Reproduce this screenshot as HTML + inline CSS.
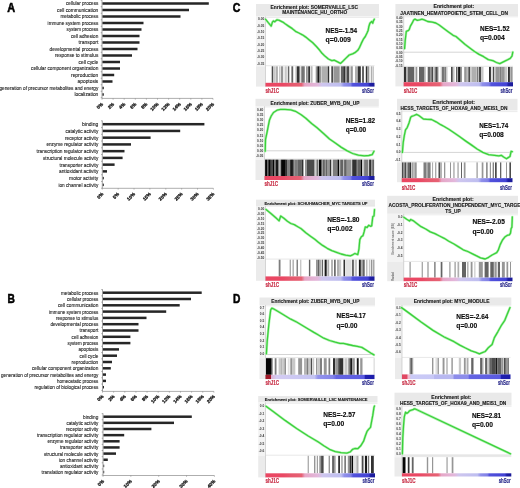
<!DOCTYPE html>
<html><head><meta charset="utf-8"><style>
html,body{margin:0;padding:0;background:#fff;}
svg{display:block;font-family:"Liberation Sans", sans-serif;will-change:transform;}
</style></head><body>
<svg xmlns="http://www.w3.org/2000/svg" width="520" height="488" viewBox="0 0 520 488">
<rect width="520" height="488" fill="#fff"/>
<rect x="102.40" y="2.25" width="106.40" height="2.5" fill="#262626"/>
<text x="98.30" y="5.40" font-size="5.7" fill="#1e1e1e" text-anchor="end" font-weight="normal" textLength="32.30" lengthAdjust="spacingAndGlyphs" stroke="#1e1e1e" stroke-width="0.12">cellular process</text>
<rect x="102.40" y="8.75" width="86.60" height="2.5" fill="#262626"/>
<text x="98.30" y="11.90" font-size="5.7" fill="#1e1e1e" text-anchor="end" font-weight="normal" textLength="41.30" lengthAdjust="spacingAndGlyphs" stroke="#1e1e1e" stroke-width="0.12">cell communication</text>
<rect x="102.40" y="15.25" width="78.10" height="2.5" fill="#262626"/>
<text x="98.30" y="18.40" font-size="5.7" fill="#1e1e1e" text-anchor="end" font-weight="normal" textLength="37.90" lengthAdjust="spacingAndGlyphs" stroke="#1e1e1e" stroke-width="0.12">metabolic process</text>
<rect x="102.40" y="21.75" width="41.10" height="2.5" fill="#262626"/>
<text x="98.30" y="24.90" font-size="5.7" fill="#1e1e1e" text-anchor="end" font-weight="normal" textLength="50.70" lengthAdjust="spacingAndGlyphs" stroke="#1e1e1e" stroke-width="0.12">immune system process</text>
<rect x="102.40" y="28.25" width="39.10" height="2.5" fill="#262626"/>
<text x="98.30" y="31.40" font-size="5.7" fill="#1e1e1e" text-anchor="end" font-weight="normal" textLength="31.70" lengthAdjust="spacingAndGlyphs" stroke="#1e1e1e" stroke-width="0.12">system process</text>
<rect x="102.40" y="34.75" width="37.10" height="2.5" fill="#262626"/>
<text x="98.30" y="37.90" font-size="5.7" fill="#1e1e1e" text-anchor="end" font-weight="normal" textLength="27.30" lengthAdjust="spacingAndGlyphs" stroke="#1e1e1e" stroke-width="0.12">cell adhesion</text>
<rect x="102.40" y="41.25" width="37.10" height="2.5" fill="#262626"/>
<text x="98.30" y="44.40" font-size="5.7" fill="#1e1e1e" text-anchor="end" font-weight="normal" textLength="19.70" lengthAdjust="spacingAndGlyphs" stroke="#1e1e1e" stroke-width="0.12">transport</text>
<rect x="102.40" y="47.75" width="35.10" height="2.5" fill="#262626"/>
<text x="98.30" y="50.90" font-size="5.7" fill="#1e1e1e" text-anchor="end" font-weight="normal" textLength="48.70" lengthAdjust="spacingAndGlyphs" stroke="#1e1e1e" stroke-width="0.12">developmental process</text>
<rect x="102.40" y="54.25" width="29.60" height="2.5" fill="#262626"/>
<text x="98.30" y="57.40" font-size="5.7" fill="#1e1e1e" text-anchor="end" font-weight="normal" textLength="43.30" lengthAdjust="spacingAndGlyphs" stroke="#1e1e1e" stroke-width="0.12">response to stimulus</text>
<rect x="102.40" y="60.75" width="17.60" height="2.5" fill="#262626"/>
<text x="98.30" y="63.90" font-size="5.7" fill="#1e1e1e" text-anchor="end" font-weight="normal" textLength="19.70" lengthAdjust="spacingAndGlyphs" stroke="#1e1e1e" stroke-width="0.12">cell cycle</text>
<rect x="102.40" y="67.25" width="17.60" height="2.5" fill="#262626"/>
<text x="98.30" y="70.40" font-size="5.7" fill="#1e1e1e" text-anchor="end" font-weight="normal" textLength="67.30" lengthAdjust="spacingAndGlyphs" stroke="#1e1e1e" stroke-width="0.12">cellular component organization</text>
<rect x="102.40" y="73.75" width="11.80" height="2.5" fill="#262626"/>
<text x="98.30" y="76.90" font-size="5.7" fill="#1e1e1e" text-anchor="end" font-weight="normal" textLength="27.30" lengthAdjust="spacingAndGlyphs" stroke="#1e1e1e" stroke-width="0.12">reproduction</text>
<rect x="102.40" y="80.25" width="10.10" height="2.5" fill="#262626"/>
<text x="98.30" y="83.40" font-size="5.7" fill="#1e1e1e" text-anchor="end" font-weight="normal" textLength="20.70" lengthAdjust="spacingAndGlyphs" stroke="#1e1e1e" stroke-width="0.12">apoptosis</text>
<rect x="102.40" y="86.75" width="1.40" height="2.5" fill="#262626"/>
<text x="98.30" y="89.90" font-size="5.7" fill="#1e1e1e" text-anchor="end" font-weight="normal" textLength="98.80" lengthAdjust="spacingAndGlyphs" stroke="#1e1e1e" stroke-width="0.12">generation of precursor metabolites and energy</text>
<rect x="102.40" y="93.25" width="1.40" height="2.5" fill="#262626"/>
<text x="98.30" y="96.40" font-size="5.7" fill="#1e1e1e" text-anchor="end" font-weight="normal" textLength="23.90" lengthAdjust="spacingAndGlyphs" stroke="#1e1e1e" stroke-width="0.12">localization</text>
<line x1="102.00" y1="0.20" x2="102.00" y2="98.40" stroke="#666" stroke-width="0.6"/>
<line x1="100.70" y1="0.25" x2="102.00" y2="0.25" stroke="#666" stroke-width="0.5"/>
<line x1="100.70" y1="6.75" x2="102.00" y2="6.75" stroke="#666" stroke-width="0.5"/>
<line x1="100.70" y1="13.25" x2="102.00" y2="13.25" stroke="#666" stroke-width="0.5"/>
<line x1="100.70" y1="19.75" x2="102.00" y2="19.75" stroke="#666" stroke-width="0.5"/>
<line x1="100.70" y1="26.25" x2="102.00" y2="26.25" stroke="#666" stroke-width="0.5"/>
<line x1="100.70" y1="32.75" x2="102.00" y2="32.75" stroke="#666" stroke-width="0.5"/>
<line x1="100.70" y1="39.25" x2="102.00" y2="39.25" stroke="#666" stroke-width="0.5"/>
<line x1="100.70" y1="45.75" x2="102.00" y2="45.75" stroke="#666" stroke-width="0.5"/>
<line x1="100.70" y1="52.25" x2="102.00" y2="52.25" stroke="#666" stroke-width="0.5"/>
<line x1="100.70" y1="58.75" x2="102.00" y2="58.75" stroke="#666" stroke-width="0.5"/>
<line x1="100.70" y1="65.25" x2="102.00" y2="65.25" stroke="#666" stroke-width="0.5"/>
<line x1="100.70" y1="71.75" x2="102.00" y2="71.75" stroke="#666" stroke-width="0.5"/>
<line x1="100.70" y1="78.25" x2="102.00" y2="78.25" stroke="#666" stroke-width="0.5"/>
<line x1="100.70" y1="84.75" x2="102.00" y2="84.75" stroke="#666" stroke-width="0.5"/>
<line x1="100.70" y1="91.25" x2="102.00" y2="91.25" stroke="#666" stroke-width="0.5"/>
<line x1="100.70" y1="97.75" x2="102.00" y2="97.75" stroke="#666" stroke-width="0.5"/>
<line x1="102.00" y1="98.40" x2="213.00" y2="98.40" stroke="#777" stroke-width="0.6"/>
<line x1="102.00" y1="98.40" x2="102.00" y2="99.70" stroke="#777" stroke-width="0.5"/>
<text x="0" y="0" font-size="4.7" font-weight="bold" fill="#1a1a1a" stroke="#1a1a1a" stroke-width="0.3" text-anchor="end" transform="translate(103.40,104.50) rotate(-45)">0%</text>
<line x1="113.10" y1="98.40" x2="113.10" y2="99.70" stroke="#777" stroke-width="0.5"/>
<text x="0" y="0" font-size="4.7" font-weight="bold" fill="#1a1a1a" stroke="#1a1a1a" stroke-width="0.3" text-anchor="end" transform="translate(114.50,104.50) rotate(-45)">2%</text>
<line x1="124.20" y1="98.40" x2="124.20" y2="99.70" stroke="#777" stroke-width="0.5"/>
<text x="0" y="0" font-size="4.7" font-weight="bold" fill="#1a1a1a" stroke="#1a1a1a" stroke-width="0.3" text-anchor="end" transform="translate(125.60,104.50) rotate(-45)">4%</text>
<line x1="135.30" y1="98.40" x2="135.30" y2="99.70" stroke="#777" stroke-width="0.5"/>
<text x="0" y="0" font-size="4.7" font-weight="bold" fill="#1a1a1a" stroke="#1a1a1a" stroke-width="0.3" text-anchor="end" transform="translate(136.70,104.50) rotate(-45)">6%</text>
<line x1="146.40" y1="98.40" x2="146.40" y2="99.70" stroke="#777" stroke-width="0.5"/>
<text x="0" y="0" font-size="4.7" font-weight="bold" fill="#1a1a1a" stroke="#1a1a1a" stroke-width="0.3" text-anchor="end" transform="translate(147.80,104.50) rotate(-45)">8%</text>
<line x1="157.50" y1="98.40" x2="157.50" y2="99.70" stroke="#777" stroke-width="0.5"/>
<text x="0" y="0" font-size="4.7" font-weight="bold" fill="#1a1a1a" stroke="#1a1a1a" stroke-width="0.3" text-anchor="end" transform="translate(158.90,104.50) rotate(-45)">10%</text>
<line x1="168.60" y1="98.40" x2="168.60" y2="99.70" stroke="#777" stroke-width="0.5"/>
<text x="0" y="0" font-size="4.7" font-weight="bold" fill="#1a1a1a" stroke="#1a1a1a" stroke-width="0.3" text-anchor="end" transform="translate(170.00,104.50) rotate(-45)">12%</text>
<line x1="179.70" y1="98.40" x2="179.70" y2="99.70" stroke="#777" stroke-width="0.5"/>
<text x="0" y="0" font-size="4.7" font-weight="bold" fill="#1a1a1a" stroke="#1a1a1a" stroke-width="0.3" text-anchor="end" transform="translate(181.10,104.50) rotate(-45)">14%</text>
<line x1="190.80" y1="98.40" x2="190.80" y2="99.70" stroke="#777" stroke-width="0.5"/>
<text x="0" y="0" font-size="4.7" font-weight="bold" fill="#1a1a1a" stroke="#1a1a1a" stroke-width="0.3" text-anchor="end" transform="translate(192.20,104.50) rotate(-45)">16%</text>
<line x1="201.90" y1="98.40" x2="201.90" y2="99.70" stroke="#777" stroke-width="0.5"/>
<text x="0" y="0" font-size="4.7" font-weight="bold" fill="#1a1a1a" stroke="#1a1a1a" stroke-width="0.3" text-anchor="end" transform="translate(203.30,104.50) rotate(-45)">18%</text>
<line x1="213.00" y1="98.40" x2="213.00" y2="99.70" stroke="#777" stroke-width="0.5"/>
<text x="0" y="0" font-size="4.7" font-weight="bold" fill="#1a1a1a" stroke="#1a1a1a" stroke-width="0.3" text-anchor="end" transform="translate(214.40,104.50) rotate(-45)">20%</text>
<rect x="102.70" y="122.95" width="101.70" height="2.5" fill="#262626"/>
<text x="98.30" y="126.10" font-size="5.7" fill="#1e1e1e" text-anchor="end" font-weight="normal" textLength="16.30" lengthAdjust="spacingAndGlyphs" stroke="#1e1e1e" stroke-width="0.12">binding</text>
<rect x="102.70" y="129.69" width="77.50" height="2.5" fill="#262626"/>
<text x="98.30" y="132.84" font-size="5.7" fill="#1e1e1e" text-anchor="end" font-weight="normal" textLength="32.90" lengthAdjust="spacingAndGlyphs" stroke="#1e1e1e" stroke-width="0.12">catalytic activity</text>
<rect x="102.70" y="136.43" width="47.90" height="2.5" fill="#262626"/>
<text x="98.30" y="139.58" font-size="5.7" fill="#1e1e1e" text-anchor="end" font-weight="normal" textLength="33.30" lengthAdjust="spacingAndGlyphs" stroke="#1e1e1e" stroke-width="0.12">receptor activity</text>
<rect x="102.70" y="143.17" width="28.30" height="2.5" fill="#262626"/>
<text x="98.30" y="146.32" font-size="5.7" fill="#1e1e1e" text-anchor="end" font-weight="normal" textLength="51.90" lengthAdjust="spacingAndGlyphs" stroke="#1e1e1e" stroke-width="0.12">enzyme regulator activity</text>
<rect x="102.70" y="149.91" width="21.80" height="2.5" fill="#262626"/>
<text x="98.30" y="153.06" font-size="5.7" fill="#1e1e1e" text-anchor="end" font-weight="normal" textLength="61.70" lengthAdjust="spacingAndGlyphs" stroke="#1e1e1e" stroke-width="0.12">transcription regulator activity</text>
<rect x="102.70" y="156.65" width="19.90" height="2.5" fill="#262626"/>
<text x="98.30" y="159.80" font-size="5.7" fill="#1e1e1e" text-anchor="end" font-weight="normal" textLength="55.30" lengthAdjust="spacingAndGlyphs" stroke="#1e1e1e" stroke-width="0.12">structural molecule activity</text>
<rect x="102.70" y="163.39" width="11.90" height="2.5" fill="#262626"/>
<text x="98.30" y="166.54" font-size="5.7" fill="#1e1e1e" text-anchor="end" font-weight="normal" textLength="38.70" lengthAdjust="spacingAndGlyphs" stroke="#1e1e1e" stroke-width="0.12">transporter activity</text>
<rect x="102.70" y="170.13" width="4.30" height="2.5" fill="#262626"/>
<text x="98.30" y="173.28" font-size="5.7" fill="#1e1e1e" text-anchor="end" font-weight="normal" textLength="39.30" lengthAdjust="spacingAndGlyphs" stroke="#1e1e1e" stroke-width="0.12">antioxidant activity</text>
<rect x="102.70" y="176.87" width="1.10" height="2.5" fill="#262626"/>
<text x="98.30" y="180.02" font-size="5.7" fill="#1e1e1e" text-anchor="end" font-weight="normal" textLength="29.30" lengthAdjust="spacingAndGlyphs" stroke="#1e1e1e" stroke-width="0.12">motor activity</text>
<rect x="102.70" y="183.61" width="1.10" height="2.5" fill="#262626"/>
<text x="98.30" y="186.76" font-size="5.7" fill="#1e1e1e" text-anchor="end" font-weight="normal" textLength="39.90" lengthAdjust="spacingAndGlyphs" stroke="#1e1e1e" stroke-width="0.12">ion channel activity</text>
<line x1="102.30" y1="120.60" x2="102.30" y2="188.30" stroke="#666" stroke-width="0.6"/>
<line x1="101.00" y1="120.83" x2="102.30" y2="120.83" stroke="#666" stroke-width="0.5"/>
<line x1="101.00" y1="127.57" x2="102.30" y2="127.57" stroke="#666" stroke-width="0.5"/>
<line x1="101.00" y1="134.31" x2="102.30" y2="134.31" stroke="#666" stroke-width="0.5"/>
<line x1="101.00" y1="141.05" x2="102.30" y2="141.05" stroke="#666" stroke-width="0.5"/>
<line x1="101.00" y1="147.79" x2="102.30" y2="147.79" stroke="#666" stroke-width="0.5"/>
<line x1="101.00" y1="154.53" x2="102.30" y2="154.53" stroke="#666" stroke-width="0.5"/>
<line x1="101.00" y1="161.27" x2="102.30" y2="161.27" stroke="#666" stroke-width="0.5"/>
<line x1="101.00" y1="168.01" x2="102.30" y2="168.01" stroke="#666" stroke-width="0.5"/>
<line x1="101.00" y1="174.75" x2="102.30" y2="174.75" stroke="#666" stroke-width="0.5"/>
<line x1="101.00" y1="181.49" x2="102.30" y2="181.49" stroke="#666" stroke-width="0.5"/>
<line x1="101.00" y1="188.23" x2="102.30" y2="188.23" stroke="#666" stroke-width="0.5"/>
<line x1="102.30" y1="188.30" x2="213.40" y2="188.30" stroke="#777" stroke-width="0.6"/>
<line x1="102.30" y1="188.30" x2="102.30" y2="189.60" stroke="#777" stroke-width="0.5"/>
<text x="0" y="0" font-size="4.7" font-weight="bold" fill="#1a1a1a" stroke="#1a1a1a" stroke-width="0.3" text-anchor="end" transform="translate(103.70,194.40) rotate(-45)">0%</text>
<line x1="118.17" y1="188.30" x2="118.17" y2="189.60" stroke="#777" stroke-width="0.5"/>
<text x="0" y="0" font-size="4.7" font-weight="bold" fill="#1a1a1a" stroke="#1a1a1a" stroke-width="0.3" text-anchor="end" transform="translate(119.57,194.40) rotate(-45)">5%</text>
<line x1="134.04" y1="188.30" x2="134.04" y2="189.60" stroke="#777" stroke-width="0.5"/>
<text x="0" y="0" font-size="4.7" font-weight="bold" fill="#1a1a1a" stroke="#1a1a1a" stroke-width="0.3" text-anchor="end" transform="translate(135.44,194.40) rotate(-45)">10%</text>
<line x1="149.91" y1="188.30" x2="149.91" y2="189.60" stroke="#777" stroke-width="0.5"/>
<text x="0" y="0" font-size="4.7" font-weight="bold" fill="#1a1a1a" stroke="#1a1a1a" stroke-width="0.3" text-anchor="end" transform="translate(151.31,194.40) rotate(-45)">15%</text>
<line x1="165.79" y1="188.30" x2="165.79" y2="189.60" stroke="#777" stroke-width="0.5"/>
<text x="0" y="0" font-size="4.7" font-weight="bold" fill="#1a1a1a" stroke="#1a1a1a" stroke-width="0.3" text-anchor="end" transform="translate(167.19,194.40) rotate(-45)">20%</text>
<line x1="181.66" y1="188.30" x2="181.66" y2="189.60" stroke="#777" stroke-width="0.5"/>
<text x="0" y="0" font-size="4.7" font-weight="bold" fill="#1a1a1a" stroke="#1a1a1a" stroke-width="0.3" text-anchor="end" transform="translate(183.06,194.40) rotate(-45)">25%</text>
<line x1="197.53" y1="188.30" x2="197.53" y2="189.60" stroke="#777" stroke-width="0.5"/>
<text x="0" y="0" font-size="4.7" font-weight="bold" fill="#1a1a1a" stroke="#1a1a1a" stroke-width="0.3" text-anchor="end" transform="translate(198.93,194.40) rotate(-45)">30%</text>
<line x1="213.40" y1="188.30" x2="213.40" y2="189.60" stroke="#777" stroke-width="0.5"/>
<text x="0" y="0" font-size="4.7" font-weight="bold" fill="#1a1a1a" stroke="#1a1a1a" stroke-width="0.3" text-anchor="end" transform="translate(214.80,194.40) rotate(-45)">35%</text>
<rect x="102.90" y="291.45" width="98.80" height="2.5" fill="#262626"/>
<text x="98.30" y="294.60" font-size="5.7" fill="#1e1e1e" text-anchor="end" font-weight="normal" textLength="37.30" lengthAdjust="spacingAndGlyphs" stroke="#1e1e1e" stroke-width="0.12">metabolic process</text>
<rect x="102.90" y="297.75" width="88.10" height="2.5" fill="#262626"/>
<text x="98.30" y="300.90" font-size="5.7" fill="#1e1e1e" text-anchor="end" font-weight="normal" textLength="31.30" lengthAdjust="spacingAndGlyphs" stroke="#1e1e1e" stroke-width="0.12">cellular process</text>
<rect x="102.90" y="304.05" width="76.80" height="2.5" fill="#262626"/>
<text x="98.30" y="307.20" font-size="5.7" fill="#1e1e1e" text-anchor="end" font-weight="normal" textLength="40.30" lengthAdjust="spacingAndGlyphs" stroke="#1e1e1e" stroke-width="0.12">cell communication</text>
<rect x="102.90" y="310.35" width="63.30" height="2.5" fill="#262626"/>
<text x="98.30" y="313.50" font-size="5.7" fill="#1e1e1e" text-anchor="end" font-weight="normal" textLength="49.30" lengthAdjust="spacingAndGlyphs" stroke="#1e1e1e" stroke-width="0.12">immune system process</text>
<rect x="102.90" y="316.65" width="43.60" height="2.5" fill="#262626"/>
<text x="98.30" y="319.80" font-size="5.7" fill="#1e1e1e" text-anchor="end" font-weight="normal" textLength="42.30" lengthAdjust="spacingAndGlyphs" stroke="#1e1e1e" stroke-width="0.12">response to stimulus</text>
<rect x="102.90" y="322.95" width="35.60" height="2.5" fill="#262626"/>
<text x="98.30" y="326.10" font-size="5.7" fill="#1e1e1e" text-anchor="end" font-weight="normal" textLength="47.90" lengthAdjust="spacingAndGlyphs" stroke="#1e1e1e" stroke-width="0.12">developmental process</text>
<rect x="102.90" y="329.25" width="35.60" height="2.5" fill="#262626"/>
<text x="98.30" y="332.40" font-size="5.7" fill="#1e1e1e" text-anchor="end" font-weight="normal" textLength="18.70" lengthAdjust="spacingAndGlyphs" stroke="#1e1e1e" stroke-width="0.12">transport</text>
<rect x="102.90" y="335.55" width="27.50" height="2.5" fill="#262626"/>
<text x="98.30" y="338.70" font-size="5.7" fill="#1e1e1e" text-anchor="end" font-weight="normal" textLength="26.70" lengthAdjust="spacingAndGlyphs" stroke="#1e1e1e" stroke-width="0.12">cell adhesion</text>
<rect x="102.90" y="341.85" width="27.50" height="2.5" fill="#262626"/>
<text x="98.30" y="345.00" font-size="5.7" fill="#1e1e1e" text-anchor="end" font-weight="normal" textLength="30.70" lengthAdjust="spacingAndGlyphs" stroke="#1e1e1e" stroke-width="0.12">system process</text>
<rect x="102.90" y="348.15" width="16.10" height="2.5" fill="#262626"/>
<text x="98.30" y="351.30" font-size="5.7" fill="#1e1e1e" text-anchor="end" font-weight="normal" textLength="19.90" lengthAdjust="spacingAndGlyphs" stroke="#1e1e1e" stroke-width="0.12">apoptosis</text>
<rect x="102.90" y="354.45" width="14.10" height="2.5" fill="#262626"/>
<text x="98.30" y="357.60" font-size="5.7" fill="#1e1e1e" text-anchor="end" font-weight="normal" textLength="18.70" lengthAdjust="spacingAndGlyphs" stroke="#1e1e1e" stroke-width="0.12">cell cycle</text>
<rect x="102.90" y="360.75" width="9.10" height="2.5" fill="#262626"/>
<text x="98.30" y="363.90" font-size="5.7" fill="#1e1e1e" text-anchor="end" font-weight="normal" textLength="26.70" lengthAdjust="spacingAndGlyphs" stroke="#1e1e1e" stroke-width="0.12">reproduction</text>
<rect x="102.90" y="367.05" width="7.90" height="2.5" fill="#262626"/>
<text x="98.30" y="370.20" font-size="5.7" fill="#1e1e1e" text-anchor="end" font-weight="normal" textLength="66.30" lengthAdjust="spacingAndGlyphs" stroke="#1e1e1e" stroke-width="0.12">cellular component organization</text>
<rect x="102.90" y="373.35" width="3.10" height="2.5" fill="#262626"/>
<text x="98.30" y="376.50" font-size="5.7" fill="#1e1e1e" text-anchor="end" font-weight="normal" textLength="97.30" lengthAdjust="spacingAndGlyphs" stroke="#1e1e1e" stroke-width="0.12">generation of precursor metabolites and energy</text>
<rect x="102.90" y="379.65" width="3.10" height="2.5" fill="#262626"/>
<text x="98.30" y="382.80" font-size="5.7" fill="#1e1e1e" text-anchor="end" font-weight="normal" textLength="41.30" lengthAdjust="spacingAndGlyphs" stroke="#1e1e1e" stroke-width="0.12">homeostatic process</text>
<rect x="102.90" y="385.95" width="1.10" height="2.5" fill="#262626"/>
<text x="98.30" y="389.10" font-size="5.7" fill="#1e1e1e" text-anchor="end" font-weight="normal" textLength="63.90" lengthAdjust="spacingAndGlyphs" stroke="#1e1e1e" stroke-width="0.12">regulation of biological process</text>
<line x1="102.50" y1="289.40" x2="102.50" y2="391.40" stroke="#666" stroke-width="0.6"/>
<line x1="101.20" y1="289.55" x2="102.50" y2="289.55" stroke="#666" stroke-width="0.5"/>
<line x1="101.20" y1="295.85" x2="102.50" y2="295.85" stroke="#666" stroke-width="0.5"/>
<line x1="101.20" y1="302.15" x2="102.50" y2="302.15" stroke="#666" stroke-width="0.5"/>
<line x1="101.20" y1="308.45" x2="102.50" y2="308.45" stroke="#666" stroke-width="0.5"/>
<line x1="101.20" y1="314.75" x2="102.50" y2="314.75" stroke="#666" stroke-width="0.5"/>
<line x1="101.20" y1="321.05" x2="102.50" y2="321.05" stroke="#666" stroke-width="0.5"/>
<line x1="101.20" y1="327.35" x2="102.50" y2="327.35" stroke="#666" stroke-width="0.5"/>
<line x1="101.20" y1="333.65" x2="102.50" y2="333.65" stroke="#666" stroke-width="0.5"/>
<line x1="101.20" y1="339.95" x2="102.50" y2="339.95" stroke="#666" stroke-width="0.5"/>
<line x1="101.20" y1="346.25" x2="102.50" y2="346.25" stroke="#666" stroke-width="0.5"/>
<line x1="101.20" y1="352.55" x2="102.50" y2="352.55" stroke="#666" stroke-width="0.5"/>
<line x1="101.20" y1="358.85" x2="102.50" y2="358.85" stroke="#666" stroke-width="0.5"/>
<line x1="101.20" y1="365.15" x2="102.50" y2="365.15" stroke="#666" stroke-width="0.5"/>
<line x1="101.20" y1="371.45" x2="102.50" y2="371.45" stroke="#666" stroke-width="0.5"/>
<line x1="101.20" y1="377.75" x2="102.50" y2="377.75" stroke="#666" stroke-width="0.5"/>
<line x1="101.20" y1="384.05" x2="102.50" y2="384.05" stroke="#666" stroke-width="0.5"/>
<line x1="101.20" y1="390.35" x2="102.50" y2="390.35" stroke="#666" stroke-width="0.5"/>
<line x1="102.50" y1="391.40" x2="213.90" y2="391.40" stroke="#777" stroke-width="0.6"/>
<line x1="102.50" y1="391.40" x2="102.50" y2="392.70" stroke="#777" stroke-width="0.5"/>
<text x="0" y="0" font-size="4.7" font-weight="bold" fill="#1a1a1a" stroke="#1a1a1a" stroke-width="0.3" text-anchor="end" transform="translate(103.90,396.80) rotate(-45)">0%</text>
<line x1="113.64" y1="391.40" x2="113.64" y2="392.70" stroke="#777" stroke-width="0.5"/>
<text x="0" y="0" font-size="4.7" font-weight="bold" fill="#1a1a1a" stroke="#1a1a1a" stroke-width="0.3" text-anchor="end" transform="translate(115.04,396.80) rotate(-45)">2%</text>
<line x1="124.78" y1="391.40" x2="124.78" y2="392.70" stroke="#777" stroke-width="0.5"/>
<text x="0" y="0" font-size="4.7" font-weight="bold" fill="#1a1a1a" stroke="#1a1a1a" stroke-width="0.3" text-anchor="end" transform="translate(126.18,396.80) rotate(-45)">4%</text>
<line x1="135.92" y1="391.40" x2="135.92" y2="392.70" stroke="#777" stroke-width="0.5"/>
<text x="0" y="0" font-size="4.7" font-weight="bold" fill="#1a1a1a" stroke="#1a1a1a" stroke-width="0.3" text-anchor="end" transform="translate(137.32,396.80) rotate(-45)">6%</text>
<line x1="147.06" y1="391.40" x2="147.06" y2="392.70" stroke="#777" stroke-width="0.5"/>
<text x="0" y="0" font-size="4.7" font-weight="bold" fill="#1a1a1a" stroke="#1a1a1a" stroke-width="0.3" text-anchor="end" transform="translate(148.46,396.80) rotate(-45)">8%</text>
<line x1="158.20" y1="391.40" x2="158.20" y2="392.70" stroke="#777" stroke-width="0.5"/>
<text x="0" y="0" font-size="4.7" font-weight="bold" fill="#1a1a1a" stroke="#1a1a1a" stroke-width="0.3" text-anchor="end" transform="translate(159.60,396.80) rotate(-45)">10%</text>
<line x1="169.34" y1="391.40" x2="169.34" y2="392.70" stroke="#777" stroke-width="0.5"/>
<text x="0" y="0" font-size="4.7" font-weight="bold" fill="#1a1a1a" stroke="#1a1a1a" stroke-width="0.3" text-anchor="end" transform="translate(170.74,396.80) rotate(-45)">12%</text>
<line x1="180.48" y1="391.40" x2="180.48" y2="392.70" stroke="#777" stroke-width="0.5"/>
<text x="0" y="0" font-size="4.7" font-weight="bold" fill="#1a1a1a" stroke="#1a1a1a" stroke-width="0.3" text-anchor="end" transform="translate(181.88,396.80) rotate(-45)">14%</text>
<line x1="191.62" y1="391.40" x2="191.62" y2="392.70" stroke="#777" stroke-width="0.5"/>
<text x="0" y="0" font-size="4.7" font-weight="bold" fill="#1a1a1a" stroke="#1a1a1a" stroke-width="0.3" text-anchor="end" transform="translate(193.02,396.80) rotate(-45)">16%</text>
<line x1="202.76" y1="391.40" x2="202.76" y2="392.70" stroke="#777" stroke-width="0.5"/>
<text x="0" y="0" font-size="4.7" font-weight="bold" fill="#1a1a1a" stroke="#1a1a1a" stroke-width="0.3" text-anchor="end" transform="translate(204.16,396.80) rotate(-45)">18%</text>
<line x1="213.90" y1="391.40" x2="213.90" y2="392.70" stroke="#777" stroke-width="0.5"/>
<text x="0" y="0" font-size="4.7" font-weight="bold" fill="#1a1a1a" stroke="#1a1a1a" stroke-width="0.3" text-anchor="end" transform="translate(215.30,396.80) rotate(-45)">20%</text>
<rect x="103.40" y="415.45" width="88.40" height="2.5" fill="#262626"/>
<text x="98.30" y="418.60" font-size="5.7" fill="#1e1e1e" text-anchor="end" font-weight="normal" textLength="15.30" lengthAdjust="spacingAndGlyphs" stroke="#1e1e1e" stroke-width="0.12">binding</text>
<rect x="103.40" y="421.60" width="70.60" height="2.5" fill="#262626"/>
<text x="98.30" y="424.75" font-size="5.7" fill="#1e1e1e" text-anchor="end" font-weight="normal" textLength="31.90" lengthAdjust="spacingAndGlyphs" stroke="#1e1e1e" stroke-width="0.12">catalytic activity</text>
<rect x="103.40" y="427.75" width="48.00" height="2.5" fill="#262626"/>
<text x="98.30" y="430.90" font-size="5.7" fill="#1e1e1e" text-anchor="end" font-weight="normal" textLength="32.30" lengthAdjust="spacingAndGlyphs" stroke="#1e1e1e" stroke-width="0.12">receptor activity</text>
<rect x="103.40" y="433.90" width="20.80" height="2.5" fill="#262626"/>
<text x="98.30" y="437.05" font-size="5.7" fill="#1e1e1e" text-anchor="end" font-weight="normal" textLength="61.30" lengthAdjust="spacingAndGlyphs" stroke="#1e1e1e" stroke-width="0.12">transcription regulator activity</text>
<rect x="103.40" y="440.05" width="16.20" height="2.5" fill="#262626"/>
<text x="98.30" y="443.20" font-size="5.7" fill="#1e1e1e" text-anchor="end" font-weight="normal" textLength="50.90" lengthAdjust="spacingAndGlyphs" stroke="#1e1e1e" stroke-width="0.12">enzyme regulator activity</text>
<rect x="103.40" y="446.20" width="16.20" height="2.5" fill="#262626"/>
<text x="98.30" y="449.35" font-size="5.7" fill="#1e1e1e" text-anchor="end" font-weight="normal" textLength="38.30" lengthAdjust="spacingAndGlyphs" stroke="#1e1e1e" stroke-width="0.12">transporter activity</text>
<rect x="103.40" y="452.35" width="12.60" height="2.5" fill="#262626"/>
<text x="98.30" y="455.50" font-size="5.7" fill="#1e1e1e" text-anchor="end" font-weight="normal" textLength="54.30" lengthAdjust="spacingAndGlyphs" stroke="#1e1e1e" stroke-width="0.12">structural molecule activity</text>
<rect x="103.40" y="458.50" width="4.40" height="2.5" fill="#262626"/>
<text x="98.30" y="461.65" font-size="5.7" fill="#1e1e1e" text-anchor="end" font-weight="normal" textLength="39.30" lengthAdjust="spacingAndGlyphs" stroke="#1e1e1e" stroke-width="0.12">ion channel activity</text>
<rect x="103.40" y="464.65" width="0.80" height="2.5" fill="#262626"/>
<text x="98.30" y="467.80" font-size="5.7" fill="#1e1e1e" text-anchor="end" font-weight="normal" textLength="38.30" lengthAdjust="spacingAndGlyphs" stroke="#1e1e1e" stroke-width="0.12">antioxidant activity</text>
<rect x="103.40" y="470.80" width="0.80" height="2.5" fill="#262626"/>
<text x="98.30" y="473.95" font-size="5.7" fill="#1e1e1e" text-anchor="end" font-weight="normal" textLength="56.70" lengthAdjust="spacingAndGlyphs" stroke="#1e1e1e" stroke-width="0.12">translation regulator activity</text>
<line x1="103.00" y1="413.40" x2="103.00" y2="475.50" stroke="#666" stroke-width="0.6"/>
<line x1="101.70" y1="413.62" x2="103.00" y2="413.62" stroke="#666" stroke-width="0.5"/>
<line x1="101.70" y1="419.77" x2="103.00" y2="419.77" stroke="#666" stroke-width="0.5"/>
<line x1="101.70" y1="425.93" x2="103.00" y2="425.93" stroke="#666" stroke-width="0.5"/>
<line x1="101.70" y1="432.07" x2="103.00" y2="432.07" stroke="#666" stroke-width="0.5"/>
<line x1="101.70" y1="438.22" x2="103.00" y2="438.22" stroke="#666" stroke-width="0.5"/>
<line x1="101.70" y1="444.38" x2="103.00" y2="444.38" stroke="#666" stroke-width="0.5"/>
<line x1="101.70" y1="450.52" x2="103.00" y2="450.52" stroke="#666" stroke-width="0.5"/>
<line x1="101.70" y1="456.68" x2="103.00" y2="456.68" stroke="#666" stroke-width="0.5"/>
<line x1="101.70" y1="462.82" x2="103.00" y2="462.82" stroke="#666" stroke-width="0.5"/>
<line x1="101.70" y1="468.98" x2="103.00" y2="468.98" stroke="#666" stroke-width="0.5"/>
<line x1="101.70" y1="475.12" x2="103.00" y2="475.12" stroke="#666" stroke-width="0.5"/>
<line x1="103.00" y1="475.50" x2="214.40" y2="475.50" stroke="#777" stroke-width="0.6"/>
<line x1="103.00" y1="475.50" x2="103.00" y2="476.80" stroke="#777" stroke-width="0.5"/>
<text x="0" y="0" font-size="4.7" font-weight="bold" fill="#1a1a1a" stroke="#1a1a1a" stroke-width="0.3" text-anchor="end" transform="translate(104.40,481.60) rotate(-45)">0%</text>
<line x1="130.85" y1="475.50" x2="130.85" y2="476.80" stroke="#777" stroke-width="0.5"/>
<text x="0" y="0" font-size="4.7" font-weight="bold" fill="#1a1a1a" stroke="#1a1a1a" stroke-width="0.3" text-anchor="end" transform="translate(132.25,481.60) rotate(-45)">10%</text>
<line x1="158.70" y1="475.50" x2="158.70" y2="476.80" stroke="#777" stroke-width="0.5"/>
<text x="0" y="0" font-size="4.7" font-weight="bold" fill="#1a1a1a" stroke="#1a1a1a" stroke-width="0.3" text-anchor="end" transform="translate(160.10,481.60) rotate(-45)">20%</text>
<line x1="186.55" y1="475.50" x2="186.55" y2="476.80" stroke="#777" stroke-width="0.5"/>
<text x="0" y="0" font-size="4.7" font-weight="bold" fill="#1a1a1a" stroke="#1a1a1a" stroke-width="0.3" text-anchor="end" transform="translate(187.95,481.60) rotate(-45)">30%</text>
<line x1="214.40" y1="475.50" x2="214.40" y2="476.80" stroke="#777" stroke-width="0.5"/>
<text x="0" y="0" font-size="4.7" font-weight="bold" fill="#1a1a1a" stroke="#1a1a1a" stroke-width="0.3" text-anchor="end" transform="translate(215.80,481.60) rotate(-45)">40%</text>
<text x="7.20" y="11.60" font-size="12.6" fill="#000" text-anchor="start" font-weight="bold" textLength="7.90" lengthAdjust="spacingAndGlyphs" stroke="#000" stroke-width="0.55">A</text>
<text x="7.40" y="302.70" font-size="12.6" fill="#000" text-anchor="start" font-weight="bold" textLength="7.40" lengthAdjust="spacingAndGlyphs" stroke="#000" stroke-width="0.55">B</text>
<text x="232.70" y="11.60" font-size="12.6" fill="#000" text-anchor="start" font-weight="bold" textLength="7.60" lengthAdjust="spacingAndGlyphs" stroke="#000" stroke-width="0.55">C</text>
<text x="233.00" y="302.70" font-size="12.6" fill="#000" text-anchor="start" font-weight="bold" textLength="7.40" lengthAdjust="spacingAndGlyphs" stroke="#000" stroke-width="0.55">D</text>
<rect x="256" y="4" width="123" height="12.5" fill="#e9e9e9"/>
<rect x="256" y="16.5" width="9.5" height="49.8" fill="#f3f3f3"/>
<rect x="256" y="66.3" width="9.5" height="20.299999999999997" fill="#ebebeb"/>
<line x1="265.5" y1="16.5" x2="265.5" y2="86.6" stroke="#bdbdbd" stroke-width="0.6"/>
<line x1="265.5" y1="17.5" x2="379" y2="17.5" stroke="#d8d8d8" stroke-width="0.5"/>
<line x1="265.5" y1="65.7" x2="374.5" y2="65.7" stroke="#cfcfcf" stroke-width="0.5"/>
<text x="264.3" y="20.2" font-size="3.2" font-weight="bold" fill="#3a3a3a" text-anchor="end">0.00</text>
<text x="264.3" y="26.542857142857144" font-size="3.2" font-weight="bold" fill="#3a3a3a" text-anchor="end">-0.05</text>
<text x="264.3" y="32.885714285714286" font-size="3.2" font-weight="bold" fill="#3a3a3a" text-anchor="end">-0.10</text>
<text x="264.3" y="39.22857142857143" font-size="3.2" font-weight="bold" fill="#3a3a3a" text-anchor="end">-0.15</text>
<text x="264.3" y="45.57142857142857" font-size="3.2" font-weight="bold" fill="#3a3a3a" text-anchor="end">-0.20</text>
<text x="264.3" y="51.91428571428572" font-size="3.2" font-weight="bold" fill="#3a3a3a" text-anchor="end">-0.25</text>
<text x="264.3" y="58.25714285714287" font-size="3.2" font-weight="bold" fill="#3a3a3a" text-anchor="end">-0.30</text>
<text x="264.3" y="64.60000000000001" font-size="3.2" font-weight="bold" fill="#3a3a3a" text-anchor="end">-0.35</text>
<rect x="271.7" y="66.3" width="1.60" height="16.5" fill="rgb(75,75,75)"/>
<rect x="274" y="66.3" width="1.40" height="16.5" fill="rgb(200,200,200)"/>
<rect x="275.7" y="66.3" width="2.20" height="16.5" fill="rgb(175,175,175)"/>
<rect x="279" y="66.3" width="1.00" height="16.5" fill="rgb(200,200,200)"/>
<rect x="280.7" y="66.3" width="2.50" height="16.5" fill="rgb(150,150,150)"/>
<rect x="284.6" y="66.3" width="2.20" height="16.5" fill="rgb(200,200,200)"/>
<rect x="287.8" y="66.3" width="1.50" height="16.5" fill="rgb(100,100,100)"/>
<rect x="291.4" y="66.3" width="1.80" height="16.5" fill="rgb(100,100,100)"/>
<rect x="295.3" y="66.3" width="1.10" height="16.5" fill="rgb(200,200,200)"/>
<rect x="296.7" y="66.3" width="2.90" height="16.5" fill="rgb(50,50,50)"/>
<rect x="300.7" y="66.3" width="1.40" height="16.5" fill="rgb(150,150,150)"/>
<rect x="302.1" y="66.3" width="1.80" height="16.5" fill="rgb(100,100,100)"/>
<rect x="303.9" y="66.3" width="1.10" height="16.5" fill="rgb(150,150,150)"/>
<rect x="306" y="66.3" width="1.80" height="16.5" fill="rgb(150,150,150)"/>
<rect x="308.2" y="66.3" width="1.80" height="16.5" fill="rgb(50,50,50)"/>
<rect x="310.7" y="66.3" width="1.00" height="16.5" fill="rgb(150,150,150)"/>
<rect x="311.7" y="66.3" width="1.00" height="16.5" fill="rgb(200,200,200)"/>
<rect x="315.7" y="66.3" width="1.70" height="16.5" fill="rgb(150,150,150)"/>
<rect x="317.4" y="66.3" width="2.20" height="16.5" fill="rgb(25,25,25)"/>
<rect x="319.6" y="66.3" width="1.40" height="16.5" fill="rgb(150,150,150)"/>
<rect x="321.4" y="66.3" width="6.40" height="16.5" fill="rgb(175,175,175)"/>
<rect x="327.8" y="66.3" width="1.40" height="16.5" fill="rgb(50,50,50)"/>
<rect x="331.3" y="66.3" width="1.80" height="16.5" fill="rgb(75,75,75)"/>
<rect x="333.5" y="66.3" width="3.50" height="16.5" fill="rgb(150,150,150)"/>
<rect x="337" y="66.3" width="2.70" height="16.5" fill="rgb(150,150,150)"/>
<rect x="340.8" y="66.3" width="2.40" height="16.5" fill="rgb(100,100,100)"/>
<rect x="343.2" y="66.3" width="2.30" height="16.5" fill="rgb(50,50,50)"/>
<rect x="345.5" y="66.3" width="1.50" height="16.5" fill="rgb(150,150,150)"/>
<rect x="347" y="66.3" width="2.30" height="16.5" fill="rgb(75,75,75)"/>
<rect x="350.5" y="66.3" width="2.30" height="16.5" fill="rgb(150,150,150)"/>
<rect x="355" y="66.3" width="2.80" height="16.5" fill="rgb(175,175,175)"/>
<rect x="357.8" y="66.3" width="3.00" height="16.5" fill="rgb(50,50,50)"/>
<rect x="362" y="66.3" width="2.00" height="16.5" fill="rgb(100,100,100)"/>
<rect x="365.8" y="66.3" width="1.60" height="16.5" fill="rgb(50,50,50)"/>
<rect x="367.4" y="66.3" width="1.90" height="16.5" fill="rgb(150,150,150)"/>
<rect x="370.8" y="66.3" width="1.60" height="16.5" fill="rgb(175,175,175)"/>
<rect x="372.8" y="66.3" width="1.20" height="16.5" fill="rgb(200,200,200)"/>
<defs><linearGradient id="cb1" x1="0" x2="1" y1="0" y2="0"><stop offset="0" stop-color="#ea4662"/><stop offset="0.16" stop-color="#ea4864"/><stop offset="0.22" stop-color="#e6566c"/><stop offset="0.33" stop-color="#e66274"/><stop offset="0.36" stop-color="#e6a6c6"/><stop offset="0.48" stop-color="#e2b8dc"/><stop offset="0.52" stop-color="#cec6ee"/><stop offset="0.69" stop-color="#bebef0"/><stop offset="0.72" stop-color="#9090ea"/><stop offset="0.78" stop-color="#8080e6"/><stop offset="0.8" stop-color="#5252dc"/><stop offset="0.94" stop-color="#4242d4"/><stop offset="0.96" stop-color="#1e1ea4"/><stop offset="1" stop-color="#1a1a98"/></linearGradient></defs>
<rect x="265.5" y="82.8" width="109.0" height="3.799999999999997" fill="url(#cb1)"/>
<polyline points="265.5,19.2 268.3,22.7 271.2,26.1 272.4,22.1 273.5,20.9 274.7,21.8 277,19.8 279.3,20.3 282.8,22.1 285.1,23.8 288.5,26.1 292,28.4 295.5,31.3 298.9,33 302.4,34.8 305.8,37.1 309.3,40 312.8,42.8 316.2,46.3 319.7,50.3 321.5,52.7 324.9,56.1 328.4,59 331.8,60.7 334.2,60.2 337.6,61.9 340.5,63.4 342.8,61.3 345.7,58.4 349.2,55 352.6,53.8 354.9,52.7 357.8,50.3 359.5,47.5 361.3,43.4 363.6,38.8 365.3,36.5 367,33 368.2,30.2 368.8,26.7 369.9,23.2 371.7,21.5 372.8,23.2 373.4,20.9 374.3,19.2" fill="none" stroke="#b4f2b4" stroke-width="2.5" stroke-linejoin="round" stroke-linecap="round"/>
<polyline points="265.5,19.2 268.3,22.7 271.2,26.1 272.4,22.1 273.5,20.9 274.7,21.8 277,19.8 279.3,20.3 282.8,22.1 285.1,23.8 288.5,26.1 292,28.4 295.5,31.3 298.9,33 302.4,34.8 305.8,37.1 309.3,40 312.8,42.8 316.2,46.3 319.7,50.3 321.5,52.7 324.9,56.1 328.4,59 331.8,60.7 334.2,60.2 337.6,61.9 340.5,63.4 342.8,61.3 345.7,58.4 349.2,55 352.6,53.8 354.9,52.7 357.8,50.3 359.5,47.5 361.3,43.4 363.6,38.8 365.3,36.5 367,33 368.2,30.2 368.8,26.7 369.9,23.2 371.7,21.5 372.8,23.2 373.4,20.9 374.3,19.2" fill="none" stroke="#3ad03a" stroke-width="1.3" stroke-linejoin="round" stroke-linecap="round"/>
<text x="270.50" y="8.50" font-size="4.7" fill="#1a1a1a" text-anchor="start" font-weight="bold" textLength="87.50" lengthAdjust="spacingAndGlyphs" stroke="#1a1a1a" stroke-width="0.12">Enrichment plot: SOMERVAILLE_LSC</text>
<text x="282.20" y="14.40" font-size="4.7" fill="#1a1a1a" text-anchor="start" font-weight="bold" textLength="65.10" lengthAdjust="spacingAndGlyphs" stroke="#1a1a1a" stroke-width="0.12">MAINTENANCE_HU_ORTHO</text>
<text x="325.50" y="32.60" font-size="7.9" fill="#0a0a0a" text-anchor="start" font-weight="bold" textLength="31.70" lengthAdjust="spacingAndGlyphs" stroke="#0a0a0a" stroke-width="0.15">NES=-1.54</text>
<text x="325.50" y="42.00" font-size="7.9" fill="#0a0a0a" text-anchor="start" font-weight="bold" textLength="25.40" lengthAdjust="spacingAndGlyphs" stroke="#0a0a0a" stroke-width="0.15">q=0.009</text>
<text x="265.50" y="92.70" font-size="6.6" fill="#c82e46" text-anchor="start" font-weight="bold" textLength="13.60" lengthAdjust="spacingAndGlyphs" stroke="#c82e46" stroke-width="0.2">shJ1C</text>
<text x="373.90" y="92.70" font-size="6.6" fill="#2c2c8c" text-anchor="end" font-weight="bold" textLength="12.00" lengthAdjust="spacingAndGlyphs" stroke="#2c2c8c" stroke-width="0.2">shScr</text>
<rect x="395.4" y="4" width="122.60000000000002" height="12" fill="#e9e9e9"/>
<rect x="395.4" y="16" width="8.300000000000011" height="50.900000000000006" fill="#f3f3f3"/>
<rect x="395.4" y="66.9" width="8.300000000000011" height="19.5" fill="#ebebeb"/>
<line x1="403.7" y1="16" x2="403.7" y2="86.4" stroke="#bdbdbd" stroke-width="0.6"/>
<line x1="403.7" y1="16.8" x2="518" y2="16.8" stroke="#d8d8d8" stroke-width="0.5"/>
<line x1="403.7" y1="66.30000000000001" x2="513" y2="66.30000000000001" stroke="#cfcfcf" stroke-width="0.5"/>
<line x1="403.7" y1="52.2" x2="513" y2="52.2" stroke="#a8a8a8" stroke-width="0.5"/>
<text x="402.5" y="19.0" font-size="3.2" font-weight="bold" fill="#3a3a3a" text-anchor="end">0.40</text>
<text x="402.5" y="23.336363636363636" font-size="3.2" font-weight="bold" fill="#3a3a3a" text-anchor="end">0.35</text>
<text x="402.5" y="27.672727272727272" font-size="3.2" font-weight="bold" fill="#3a3a3a" text-anchor="end">0.30</text>
<text x="402.5" y="32.009090909090915" font-size="3.2" font-weight="bold" fill="#3a3a3a" text-anchor="end">0.25</text>
<text x="402.5" y="36.345454545454544" font-size="3.2" font-weight="bold" fill="#3a3a3a" text-anchor="end">0.20</text>
<text x="402.5" y="40.68181818181819" font-size="3.2" font-weight="bold" fill="#3a3a3a" text-anchor="end">0.15</text>
<text x="402.5" y="45.01818181818182" font-size="3.2" font-weight="bold" fill="#3a3a3a" text-anchor="end">0.10</text>
<text x="402.5" y="49.35454545454546" font-size="3.2" font-weight="bold" fill="#3a3a3a" text-anchor="end">0.05</text>
<text x="402.5" y="53.690909090909095" font-size="3.2" font-weight="bold" fill="#3a3a3a" text-anchor="end">0.00</text>
<text x="402.5" y="58.02727272727273" font-size="3.2" font-weight="bold" fill="#3a3a3a" text-anchor="end">-0.05</text>
<text x="402.5" y="62.36363636363637" font-size="3.2" font-weight="bold" fill="#3a3a3a" text-anchor="end">-0.10</text>
<text x="402.5" y="66.7" font-size="3.2" font-weight="bold" fill="#3a3a3a" text-anchor="end">-0.15</text>
<rect x="404" y="66.9" width="2.30" height="15.299999999999997" fill="rgb(50,50,50)"/>
<rect x="406.3" y="66.9" width="1.50" height="15.299999999999997" fill="rgb(175,175,175)"/>
<rect x="407.8" y="66.9" width="6.60" height="15.299999999999997" fill="rgb(100,100,100)"/>
<rect x="414.4" y="66.9" width="1.20" height="15.299999999999997" fill="rgb(225,225,225)"/>
<rect x="415.6" y="66.9" width="1.70" height="15.299999999999997" fill="rgb(150,150,150)"/>
<rect x="419" y="66.9" width="5.50" height="15.299999999999997" fill="rgb(100,100,100)"/>
<rect x="424.5" y="66.9" width="1.20" height="15.299999999999997" fill="rgb(175,175,175)"/>
<rect x="427.7" y="66.9" width="2.30" height="15.299999999999997" fill="rgb(100,100,100)"/>
<rect x="430" y="66.9" width="1.40" height="15.299999999999997" fill="rgb(150,150,150)"/>
<rect x="431.4" y="66.9" width="1.80" height="15.299999999999997" fill="rgb(75,75,75)"/>
<rect x="433.2" y="66.9" width="1.40" height="15.299999999999997" fill="rgb(200,200,200)"/>
<rect x="434.6" y="66.9" width="1.40" height="15.299999999999997" fill="rgb(125,125,125)"/>
<rect x="436" y="66.9" width="1.80" height="15.299999999999997" fill="rgb(75,75,75)"/>
<rect x="437.8" y="66.9" width="1.10" height="15.299999999999997" fill="rgb(200,200,200)"/>
<rect x="440.7" y="66.9" width="1.20" height="15.299999999999997" fill="rgb(200,200,200)"/>
<rect x="442.1" y="66.9" width="1.80" height="15.299999999999997" fill="rgb(100,100,100)"/>
<rect x="443.9" y="66.9" width="1.10" height="15.299999999999997" fill="rgb(150,150,150)"/>
<rect x="445" y="66.9" width="1.40" height="15.299999999999997" fill="rgb(125,125,125)"/>
<rect x="446.4" y="66.9" width="1.10" height="15.299999999999997" fill="rgb(200,200,200)"/>
<rect x="451" y="66.9" width="1.80" height="15.299999999999997" fill="rgb(75,75,75)"/>
<rect x="452.8" y="66.9" width="1.80" height="15.299999999999997" fill="rgb(200,200,200)"/>
<rect x="456" y="66.9" width="1.00" height="15.299999999999997" fill="rgb(100,100,100)"/>
<rect x="457" y="66.9" width="1.10" height="15.299999999999997" fill="rgb(175,175,175)"/>
<rect x="458.1" y="66.9" width="2.50" height="15.299999999999997" fill="rgb(25,25,25)"/>
<rect x="460.6" y="66.9" width="1.40" height="15.299999999999997" fill="rgb(150,150,150)"/>
<rect x="464.2" y="66.9" width="1.80" height="15.299999999999997" fill="rgb(150,150,150)"/>
<rect x="466" y="66.9" width="1.80" height="15.299999999999997" fill="rgb(175,175,175)"/>
<rect x="468.3" y="66.9" width="1.90" height="15.299999999999997" fill="rgb(75,75,75)"/>
<rect x="470.2" y="66.9" width="1.30" height="15.299999999999997" fill="rgb(200,200,200)"/>
<rect x="471.5" y="66.9" width="4.70" height="15.299999999999997" fill="rgb(175,175,175)"/>
<rect x="476.6" y="66.9" width="1.40" height="15.299999999999997" fill="rgb(125,125,125)"/>
<rect x="478" y="66.9" width="0.90" height="15.299999999999997" fill="rgb(200,200,200)"/>
<rect x="478.9" y="66.9" width="2.30" height="15.299999999999997" fill="rgb(75,75,75)"/>
<rect x="481.2" y="66.9" width="2.30" height="15.299999999999997" fill="rgb(200,200,200)"/>
<rect x="489.1" y="66.9" width="1.80" height="15.299999999999997" fill="rgb(25,25,25)"/>
<rect x="490.9" y="66.9" width="1.40" height="15.299999999999997" fill="rgb(225,225,225)"/>
<rect x="492.8" y="66.9" width="1.40" height="15.299999999999997" fill="rgb(75,75,75)"/>
<rect x="494.2" y="66.9" width="1.30" height="15.299999999999997" fill="rgb(200,200,200)"/>
<rect x="495.5" y="66.9" width="4.20" height="15.299999999999997" fill="rgb(150,150,150)"/>
<rect x="499.7" y="66.9" width="1.40" height="15.299999999999997" fill="rgb(125,125,125)"/>
<rect x="501.1" y="66.9" width="3.70" height="15.299999999999997" fill="rgb(150,150,150)"/>
<rect x="504.8" y="66.9" width="2.50" height="15.299999999999997" fill="rgb(200,200,200)"/>
<rect x="508" y="66.9" width="1.90" height="15.299999999999997" fill="rgb(50,50,50)"/>
<rect x="510.3" y="66.9" width="2.30" height="15.299999999999997" fill="rgb(150,150,150)"/>
<defs><linearGradient id="cb2" x1="0" x2="1" y1="0" y2="0"><stop offset="0" stop-color="#ea4662"/><stop offset="0.16" stop-color="#ea4864"/><stop offset="0.22" stop-color="#e6566c"/><stop offset="0.33" stop-color="#e66274"/><stop offset="0.36" stop-color="#e6a6c6"/><stop offset="0.48" stop-color="#e2b8dc"/><stop offset="0.52" stop-color="#cec6ee"/><stop offset="0.69" stop-color="#bebef0"/><stop offset="0.72" stop-color="#9090ea"/><stop offset="0.78" stop-color="#8080e6"/><stop offset="0.8" stop-color="#5252dc"/><stop offset="0.94" stop-color="#4242d4"/><stop offset="0.96" stop-color="#1e1ea4"/><stop offset="1" stop-color="#1a1a98"/></linearGradient></defs>
<rect x="403.7" y="82.2" width="109.30000000000001" height="4.200000000000003" fill="url(#cb2)"/>
<polyline points="404.6,48.6 405.2,40.5 406.3,31.3 408.1,30.7 409.2,29.6 410.4,26.1 412.1,23.2 413.8,19.8 415,19.2 417.3,20.3 419.6,19.8 421.9,19.2 424.2,19.8 427.7,21.5 432.3,22.1 435.8,23 439.2,25 443.8,28.4 448.5,31.9 453.1,35.3 456,36.5 460.6,40.5 465.2,44.6 469.8,48 474.5,51.5 479.1,54.4 483.7,56.7 488.3,59.6 492.9,60.7 496.4,62.5 499.8,63.6 503.3,61.9 506.8,60.2 510.2,58.4 512,56.1 512.8,52.1" fill="none" stroke="#b4f2b4" stroke-width="2.5" stroke-linejoin="round" stroke-linecap="round"/>
<polyline points="404.6,48.6 405.2,40.5 406.3,31.3 408.1,30.7 409.2,29.6 410.4,26.1 412.1,23.2 413.8,19.8 415,19.2 417.3,20.3 419.6,19.8 421.9,19.2 424.2,19.8 427.7,21.5 432.3,22.1 435.8,23 439.2,25 443.8,28.4 448.5,31.9 453.1,35.3 456,36.5 460.6,40.5 465.2,44.6 469.8,48 474.5,51.5 479.1,54.4 483.7,56.7 488.3,59.6 492.9,60.7 496.4,62.5 499.8,63.6 503.3,61.9 506.8,60.2 510.2,58.4 512,56.1 512.8,52.1" fill="none" stroke="#3ad03a" stroke-width="1.3" stroke-linejoin="round" stroke-linecap="round"/>
<text x="433.50" y="8.40" font-size="4.7" fill="#1a1a1a" text-anchor="start" font-weight="bold" textLength="40.80" lengthAdjust="spacingAndGlyphs" stroke="#1a1a1a" stroke-width="0.12">Enrichment plot:</text>
<text x="400.30" y="14.50" font-size="4.7" fill="#1a1a1a" text-anchor="start" font-weight="bold" textLength="107.70" lengthAdjust="spacingAndGlyphs" stroke="#1a1a1a" stroke-width="0.12">JAATINEN_HEMATOPOIETIC_STEM_CELL_DN</text>
<text x="480.00" y="30.70" font-size="7.9" fill="#0a0a0a" text-anchor="start" font-weight="bold" textLength="29.60" lengthAdjust="spacingAndGlyphs" stroke="#0a0a0a" stroke-width="0.15">NES=1.52</text>
<text x="480.00" y="40.00" font-size="7.9" fill="#0a0a0a" text-anchor="start" font-weight="bold" textLength="24.80" lengthAdjust="spacingAndGlyphs" stroke="#0a0a0a" stroke-width="0.15">q=0.004</text>
<text x="403.70" y="92.70" font-size="6.6" fill="#c82e46" text-anchor="start" font-weight="bold" textLength="13.60" lengthAdjust="spacingAndGlyphs" stroke="#c82e46" stroke-width="0.2">shJ1C</text>
<text x="512.40" y="92.70" font-size="6.6" fill="#2c2c8c" text-anchor="end" font-weight="bold" textLength="12.00" lengthAdjust="spacingAndGlyphs" stroke="#2c2c8c" stroke-width="0.2">shScr</text>
<rect x="255.5" y="98.8" width="123.30000000000001" height="7.5" fill="#e9e9e9"/>
<rect x="255.5" y="106.3" width="9.0" height="53.3" fill="#f3f3f3"/>
<rect x="255.5" y="159.6" width="9.0" height="20.400000000000006" fill="#ebebeb"/>
<line x1="264.5" y1="106.3" x2="264.5" y2="180.0" stroke="#bdbdbd" stroke-width="0.6"/>
<line x1="264.5" y1="107" x2="378.8" y2="107" stroke="#d8d8d8" stroke-width="0.5"/>
<line x1="264.5" y1="159.0" x2="374.5" y2="159.0" stroke="#cfcfcf" stroke-width="0.5"/>
<line x1="264.5" y1="150.8" x2="374.5" y2="150.8" stroke="#a8a8a8" stroke-width="0.5"/>
<text x="263.3" y="111.2" font-size="3.2" font-weight="bold" fill="#3a3a3a" text-anchor="end">0.40</text>
<text x="263.3" y="116.26666666666667" font-size="3.2" font-weight="bold" fill="#3a3a3a" text-anchor="end">0.35</text>
<text x="263.3" y="121.33333333333334" font-size="3.2" font-weight="bold" fill="#3a3a3a" text-anchor="end">0.30</text>
<text x="263.3" y="126.4" font-size="3.2" font-weight="bold" fill="#3a3a3a" text-anchor="end">0.25</text>
<text x="263.3" y="131.46666666666667" font-size="3.2" font-weight="bold" fill="#3a3a3a" text-anchor="end">0.20</text>
<text x="263.3" y="136.53333333333333" font-size="3.2" font-weight="bold" fill="#3a3a3a" text-anchor="end">0.15</text>
<text x="263.3" y="141.6" font-size="3.2" font-weight="bold" fill="#3a3a3a" text-anchor="end">0.10</text>
<text x="263.3" y="146.66666666666669" font-size="3.2" font-weight="bold" fill="#3a3a3a" text-anchor="end">0.05</text>
<text x="263.3" y="151.73333333333335" font-size="3.2" font-weight="bold" fill="#3a3a3a" text-anchor="end">0.00</text>
<text x="263.3" y="156.8" font-size="3.2" font-weight="bold" fill="#3a3a3a" text-anchor="end">-0.05</text>
<rect x="265.1" y="159.6" width="2.20" height="16.400000000000006" fill="rgb(5,5,5)"/>
<rect x="267.3" y="159.6" width="1.00" height="16.400000000000006" fill="rgb(75,75,75)"/>
<rect x="268.3" y="159.6" width="2.50" height="16.400000000000006" fill="rgb(5,5,5)"/>
<rect x="270.8" y="159.6" width="2.20" height="16.400000000000006" fill="rgb(75,75,75)"/>
<rect x="273" y="159.6" width="1.40" height="16.400000000000006" fill="rgb(5,5,5)"/>
<rect x="274.4" y="159.6" width="1.40" height="16.400000000000006" fill="rgb(100,100,100)"/>
<rect x="275.8" y="159.6" width="2.20" height="16.400000000000006" fill="rgb(25,25,25)"/>
<rect x="278" y="159.6" width="1.40" height="16.400000000000006" fill="rgb(125,125,125)"/>
<rect x="279.4" y="159.6" width="1.00" height="16.400000000000006" fill="rgb(175,175,175)"/>
<rect x="280.4" y="159.6" width="0.70" height="16.400000000000006" fill="rgb(100,100,100)"/>
<rect x="281.1" y="159.6" width="4.70" height="16.400000000000006" fill="rgb(5,5,5)"/>
<rect x="285.8" y="159.6" width="1.80" height="16.400000000000006" fill="rgb(50,50,50)"/>
<rect x="287.6" y="159.6" width="2.10" height="16.400000000000006" fill="rgb(125,125,125)"/>
<rect x="289.7" y="159.6" width="1.40" height="16.400000000000006" fill="rgb(50,50,50)"/>
<rect x="291.1" y="159.6" width="1.80" height="16.400000000000006" fill="rgb(5,5,5)"/>
<rect x="292.9" y="159.6" width="1.40" height="16.400000000000006" fill="rgb(100,100,100)"/>
<rect x="294.3" y="159.6" width="3.60" height="16.400000000000006" fill="rgb(125,125,125)"/>
<rect x="297.9" y="159.6" width="2.10" height="16.400000000000006" fill="rgb(100,100,100)"/>
<rect x="300" y="159.6" width="1.40" height="16.400000000000006" fill="rgb(100,100,100)"/>
<rect x="301.4" y="159.6" width="1.80" height="16.400000000000006" fill="rgb(50,50,50)"/>
<rect x="303.2" y="159.6" width="0.70" height="16.400000000000006" fill="rgb(150,150,150)"/>
<rect x="305" y="159.6" width="1.80" height="16.400000000000006" fill="rgb(150,150,150)"/>
<rect x="306.8" y="159.6" width="7.40" height="16.400000000000006" fill="rgb(75,75,75)"/>
<rect x="314.2" y="159.6" width="1.10" height="16.400000000000006" fill="rgb(150,150,150)"/>
<rect x="315.3" y="159.6" width="1.40" height="16.400000000000006" fill="rgb(200,200,200)"/>
<rect x="316.7" y="159.6" width="1.10" height="16.400000000000006" fill="rgb(50,50,50)"/>
<rect x="317.8" y="159.6" width="1.10" height="16.400000000000006" fill="rgb(200,200,200)"/>
<rect x="318.9" y="159.6" width="2.80" height="16.400000000000006" fill="rgb(5,5,5)"/>
<rect x="321.7" y="159.6" width="1.10" height="16.400000000000006" fill="rgb(150,150,150)"/>
<rect x="322.8" y="159.6" width="2.10" height="16.400000000000006" fill="rgb(100,100,100)"/>
<rect x="324.9" y="159.6" width="1.10" height="16.400000000000006" fill="rgb(150,150,150)"/>
<rect x="326" y="159.6" width="1.00" height="16.400000000000006" fill="rgb(100,100,100)"/>
<rect x="327" y="159.6" width="2.20" height="16.400000000000006" fill="rgb(150,150,150)"/>
<rect x="329.5" y="159.6" width="1.80" height="16.400000000000006" fill="rgb(50,50,50)"/>
<rect x="332.7" y="159.6" width="4.30" height="16.400000000000006" fill="rgb(125,125,125)"/>
<rect x="337" y="159.6" width="0.50" height="16.400000000000006" fill="rgb(125,125,125)"/>
<rect x="337.5" y="159.6" width="1.60" height="16.400000000000006" fill="rgb(5,5,5)"/>
<rect x="339.1" y="159.6" width="1.10" height="16.400000000000006" fill="rgb(175,175,175)"/>
<rect x="340.2" y="159.6" width="3.10" height="16.400000000000006" fill="rgb(100,100,100)"/>
<rect x="343.3" y="159.6" width="0.80" height="16.400000000000006" fill="rgb(175,175,175)"/>
<rect x="344.1" y="159.6" width="2.70" height="16.400000000000006" fill="rgb(100,100,100)"/>
<rect x="346.8" y="159.6" width="4.20" height="16.400000000000006" fill="rgb(150,150,150)"/>
<rect x="351" y="159.6" width="1.20" height="16.400000000000006" fill="rgb(200,200,200)"/>
<rect x="352.2" y="159.6" width="4.60" height="16.400000000000006" fill="rgb(50,50,50)"/>
<rect x="356.8" y="159.6" width="1.10" height="16.400000000000006" fill="rgb(125,125,125)"/>
<rect x="357.9" y="159.6" width="2.70" height="16.400000000000006" fill="rgb(100,100,100)"/>
<rect x="360.6" y="159.6" width="1.60" height="16.400000000000006" fill="rgb(5,5,5)"/>
<rect x="362.2" y="159.6" width="1.90" height="16.400000000000006" fill="rgb(200,200,200)"/>
<rect x="364.1" y="159.6" width="4.20" height="16.400000000000006" fill="rgb(125,125,125)"/>
<rect x="368.3" y="159.6" width="0.80" height="16.400000000000006" fill="rgb(200,200,200)"/>
<rect x="369.1" y="159.6" width="1.90" height="16.400000000000006" fill="rgb(50,50,50)"/>
<rect x="371" y="159.6" width="1.20" height="16.400000000000006" fill="rgb(150,150,150)"/>
<rect x="372.2" y="159.6" width="1.90" height="16.400000000000006" fill="rgb(100,100,100)"/>
<defs><linearGradient id="cb3" x1="0" x2="1" y1="0" y2="0"><stop offset="0" stop-color="#ea4662"/><stop offset="0.16" stop-color="#ea4864"/><stop offset="0.22" stop-color="#e6566c"/><stop offset="0.33" stop-color="#e66274"/><stop offset="0.36" stop-color="#e6a6c6"/><stop offset="0.48" stop-color="#e2b8dc"/><stop offset="0.52" stop-color="#cec6ee"/><stop offset="0.69" stop-color="#bebef0"/><stop offset="0.72" stop-color="#9090ea"/><stop offset="0.78" stop-color="#8080e6"/><stop offset="0.8" stop-color="#5252dc"/><stop offset="0.94" stop-color="#4242d4"/><stop offset="0.96" stop-color="#1e1ea4"/><stop offset="1" stop-color="#1a1a98"/></linearGradient></defs>
<rect x="264.5" y="176.0" width="110.0" height="4.0" fill="url(#cb3)"/>
<polyline points="265.2,151.2 265.5,139.6 267.2,131.5 268.3,125.8 269.5,120 271.2,116 273.5,112.5 277,110.2 280.5,109.4 285,109.4 290.8,109.8 295.5,111.3 301.2,114.8 305.8,118.3 311.6,123.5 317.4,128.1 323.8,133.8 329.5,139 335.3,143 341,147.1 346.8,150.6 352.6,153.5 358.4,155.2 364.2,155.8 368.8,155.5 372.2,154.6 374,151.2" fill="none" stroke="#b4f2b4" stroke-width="2.5" stroke-linejoin="round" stroke-linecap="round"/>
<polyline points="265.2,151.2 265.5,139.6 267.2,131.5 268.3,125.8 269.5,120 271.2,116 273.5,112.5 277,110.2 280.5,109.4 285,109.4 290.8,109.8 295.5,111.3 301.2,114.8 305.8,118.3 311.6,123.5 317.4,128.1 323.8,133.8 329.5,139 335.3,143 341,147.1 346.8,150.6 352.6,153.5 358.4,155.2 364.2,155.8 368.8,155.5 372.2,154.6 374,151.2" fill="none" stroke="#3ad03a" stroke-width="1.3" stroke-linejoin="round" stroke-linecap="round"/>
<text x="270.50" y="104.60" font-size="4.7" fill="#1a1a1a" text-anchor="start" font-weight="bold" textLength="89.00" lengthAdjust="spacingAndGlyphs" stroke="#1a1a1a" stroke-width="0.12">Enrichment plot: ZUBER_MYB_DN_UP</text>
<text x="345.70" y="122.90" font-size="7.9" fill="#0a0a0a" text-anchor="start" font-weight="bold" textLength="29.40" lengthAdjust="spacingAndGlyphs" stroke="#0a0a0a" stroke-width="0.15">NES=1.82</text>
<text x="345.70" y="131.80" font-size="7.9" fill="#0a0a0a" text-anchor="start" font-weight="bold" textLength="20.50" lengthAdjust="spacingAndGlyphs" stroke="#0a0a0a" stroke-width="0.15">q=0.00</text>
<text x="264.50" y="186.30" font-size="6.6" fill="#c82e46" text-anchor="start" font-weight="bold" textLength="13.60" lengthAdjust="spacingAndGlyphs" stroke="#c82e46" stroke-width="0.2">shJ1C</text>
<text x="373.90" y="186.30" font-size="6.6" fill="#2c2c8c" text-anchor="end" font-weight="bold" textLength="12.00" lengthAdjust="spacingAndGlyphs" stroke="#2c2c8c" stroke-width="0.2">shScr</text>
<rect x="397" y="98.8" width="120.5" height="11.700000000000003" fill="#e9e9e9"/>
<rect x="397" y="110.5" width="4.800000000000011" height="51.900000000000006" fill="#f3f3f3"/>
<rect x="397" y="162.4" width="4.800000000000011" height="19.799999999999983" fill="#ebebeb"/>
<line x1="401.8" y1="110.5" x2="401.8" y2="182.2" stroke="#bdbdbd" stroke-width="0.6"/>
<line x1="401.8" y1="111.6" x2="517.5" y2="111.6" stroke="#d8d8d8" stroke-width="0.5"/>
<line x1="401.8" y1="161.8" x2="512.5" y2="161.8" stroke="#cfcfcf" stroke-width="0.5"/>
<line x1="401.8" y1="152.4" x2="512.5" y2="152.4" stroke="#a8a8a8" stroke-width="0.5"/>
<text x="400.6" y="114.8" font-size="3.2" font-weight="bold" fill="#3a3a3a" text-anchor="end">0.5</text>
<text x="400.6" y="122.48333333333333" font-size="3.2" font-weight="bold" fill="#3a3a3a" text-anchor="end">0.4</text>
<text x="400.6" y="130.16666666666666" font-size="3.2" font-weight="bold" fill="#3a3a3a" text-anchor="end">0.3</text>
<text x="400.6" y="137.85" font-size="3.2" font-weight="bold" fill="#3a3a3a" text-anchor="end">0.2</text>
<text x="400.6" y="145.53333333333333" font-size="3.2" font-weight="bold" fill="#3a3a3a" text-anchor="end">0.1</text>
<text x="400.6" y="153.21666666666667" font-size="3.2" font-weight="bold" fill="#3a3a3a" text-anchor="end">0.0</text>
<text x="400.6" y="160.9" font-size="3.2" font-weight="bold" fill="#3a3a3a" text-anchor="end">-0.1</text>
<rect x="402" y="162.4" width="1.30" height="15.799999999999983" fill="rgb(75,75,75)"/>
<rect x="403.3" y="162.4" width="1.30" height="15.799999999999983" fill="rgb(125,125,125)"/>
<rect x="404.6" y="162.4" width="1.80" height="15.799999999999983" fill="rgb(75,75,75)"/>
<rect x="406.4" y="162.4" width="1.10" height="15.799999999999983" fill="rgb(175,175,175)"/>
<rect x="407.5" y="162.4" width="2.50" height="15.799999999999983" fill="rgb(100,100,100)"/>
<rect x="410" y="162.4" width="1.00" height="15.799999999999983" fill="rgb(50,50,50)"/>
<rect x="411" y="162.4" width="1.10" height="15.799999999999983" fill="rgb(200,200,200)"/>
<rect x="412.1" y="162.4" width="1.40" height="15.799999999999983" fill="rgb(150,150,150)"/>
<rect x="413.5" y="162.4" width="1.10" height="15.799999999999983" fill="rgb(175,175,175)"/>
<rect x="414.6" y="162.4" width="2.10" height="15.799999999999983" fill="rgb(150,150,150)"/>
<rect x="423.5" y="162.4" width="3.20" height="15.799999999999983" fill="rgb(125,125,125)"/>
<rect x="426.7" y="162.4" width="0.70" height="15.799999999999983" fill="rgb(200,200,200)"/>
<rect x="427.4" y="162.4" width="3.20" height="15.799999999999983" fill="rgb(125,125,125)"/>
<rect x="432" y="162.4" width="1.10" height="15.799999999999983" fill="rgb(175,175,175)"/>
<rect x="435.2" y="162.4" width="1.10" height="15.799999999999983" fill="rgb(150,150,150)"/>
<rect x="438.5" y="162.4" width="1.80" height="15.799999999999983" fill="rgb(75,75,75)"/>
<rect x="440.6" y="162.4" width="1.10" height="15.799999999999983" fill="rgb(150,150,150)"/>
<rect x="444" y="162.4" width="1.30" height="15.799999999999983" fill="rgb(150,150,150)"/>
<rect x="450" y="162.4" width="1.00" height="15.799999999999983" fill="rgb(150,150,150)"/>
<rect x="453.4" y="162.4" width="1.10" height="15.799999999999983" fill="rgb(150,150,150)"/>
<rect x="457.5" y="162.4" width="1.10" height="15.799999999999983" fill="rgb(150,150,150)"/>
<rect x="461" y="162.4" width="1.00" height="15.799999999999983" fill="rgb(100,100,100)"/>
<rect x="463.8" y="162.4" width="1.70" height="15.799999999999983" fill="rgb(150,150,150)"/>
<rect x="476.5" y="162.4" width="1.20" height="15.799999999999983" fill="rgb(150,150,150)"/>
<rect x="481.7" y="162.4" width="1.70" height="15.799999999999983" fill="rgb(150,150,150)"/>
<rect x="486.3" y="162.4" width="1.20" height="15.799999999999983" fill="rgb(100,100,100)"/>
<rect x="489.8" y="162.4" width="1.20" height="15.799999999999983" fill="rgb(150,150,150)"/>
<rect x="492.7" y="162.4" width="1.10" height="15.799999999999983" fill="rgb(100,100,100)"/>
<rect x="495" y="162.4" width="1.70" height="15.799999999999983" fill="rgb(75,75,75)"/>
<rect x="500" y="162.4" width="1.30" height="15.799999999999983" fill="rgb(100,100,100)"/>
<rect x="506" y="162.4" width="1.00" height="15.799999999999983" fill="rgb(150,150,150)"/>
<rect x="509.4" y="162.4" width="1.60" height="15.799999999999983" fill="rgb(75,75,75)"/>
<defs><linearGradient id="cb4" x1="0" x2="1" y1="0" y2="0"><stop offset="0" stop-color="#ea4662"/><stop offset="0.16" stop-color="#ea4864"/><stop offset="0.22" stop-color="#e6566c"/><stop offset="0.33" stop-color="#e66274"/><stop offset="0.36" stop-color="#e6a6c6"/><stop offset="0.48" stop-color="#e2b8dc"/><stop offset="0.52" stop-color="#cec6ee"/><stop offset="0.69" stop-color="#bebef0"/><stop offset="0.72" stop-color="#9090ea"/><stop offset="0.78" stop-color="#8080e6"/><stop offset="0.8" stop-color="#5252dc"/><stop offset="0.94" stop-color="#4242d4"/><stop offset="0.96" stop-color="#1e1ea4"/><stop offset="1" stop-color="#1a1a98"/></linearGradient></defs>
<rect x="401.8" y="178.2" width="110.69999999999999" height="4.0" fill="url(#cb4)"/>
<polyline points="402.4,152.4 403.2,142.6 404.3,135.7 405.5,129.9 407.2,127.6 409,123 410.7,117.2 411.8,116.3 414.2,115.5 416.5,114.3 418.8,115.5 421.1,117.2 423.4,119 426.8,119.3 431.5,119.5 436.1,121.8 440.7,124.7 444.2,126.5 448.8,129.3 454,132.8 459.8,136.8 465.5,140.9 471.3,144.9 477.1,149 482.8,152.4 488.6,154.7 494.4,155.3 499,155.9 501.3,155.3 503.6,157 506.5,158.8 508.2,157.6 510,156.5 511.1,151.3 512.3,151.6" fill="none" stroke="#b4f2b4" stroke-width="2.5" stroke-linejoin="round" stroke-linecap="round"/>
<polyline points="402.4,152.4 403.2,142.6 404.3,135.7 405.5,129.9 407.2,127.6 409,123 410.7,117.2 411.8,116.3 414.2,115.5 416.5,114.3 418.8,115.5 421.1,117.2 423.4,119 426.8,119.3 431.5,119.5 436.1,121.8 440.7,124.7 444.2,126.5 448.8,129.3 454,132.8 459.8,136.8 465.5,140.9 471.3,144.9 477.1,149 482.8,152.4 488.6,154.7 494.4,155.3 499,155.9 501.3,155.3 503.6,157 506.5,158.8 508.2,157.6 510,156.5 511.1,151.3 512.3,151.6" fill="none" stroke="#3ad03a" stroke-width="1.3" stroke-linejoin="round" stroke-linecap="round"/>
<text x="432.60" y="104.20" font-size="4.7" fill="#1a1a1a" text-anchor="start" font-weight="bold" textLength="42.40" lengthAdjust="spacingAndGlyphs" stroke="#1a1a1a" stroke-width="0.12">Enrichment plot:</text>
<text x="400.50" y="109.80" font-size="4.7" fill="#1a1a1a" text-anchor="start" font-weight="bold" textLength="107.00" lengthAdjust="spacingAndGlyphs" stroke="#1a1a1a" stroke-width="0.12">HESS_TARGETS_OF_HOXA9_AND_MEIS1_DN</text>
<text x="479.20" y="128.20" font-size="7.9" fill="#0a0a0a" text-anchor="start" font-weight="bold" textLength="29.00" lengthAdjust="spacingAndGlyphs" stroke="#0a0a0a" stroke-width="0.15">NES=1.74</text>
<text x="479.20" y="136.80" font-size="7.9" fill="#0a0a0a" text-anchor="start" font-weight="bold" textLength="24.60" lengthAdjust="spacingAndGlyphs" stroke="#0a0a0a" stroke-width="0.15">q=0.008</text>
<text x="401.80" y="189.50" font-size="6.6" fill="#c82e46" text-anchor="start" font-weight="bold" textLength="13.60" lengthAdjust="spacingAndGlyphs" stroke="#c82e46" stroke-width="0.2">shJ1C</text>
<text x="511.90" y="189.50" font-size="6.6" fill="#2c2c8c" text-anchor="end" font-weight="bold" textLength="12.00" lengthAdjust="spacingAndGlyphs" stroke="#2c2c8c" stroke-width="0.2">shScr</text>
<rect x="256" y="199.7" width="119" height="6.300000000000011" fill="#e9e9e9"/>
<rect x="256" y="206" width="9.5" height="53.69999999999999" fill="#f3f3f3"/>
<rect x="256" y="259.7" width="9.5" height="21.100000000000023" fill="#ebebeb"/>
<line x1="265.5" y1="206" x2="265.5" y2="280.8" stroke="#bdbdbd" stroke-width="0.6"/>
<line x1="265.5" y1="206.3" x2="375" y2="206.3" stroke="#d8d8d8" stroke-width="0.5"/>
<line x1="265.5" y1="259.09999999999997" x2="374.5" y2="259.09999999999997" stroke="#cfcfcf" stroke-width="0.5"/>
<text x="264.3" y="210.4" font-size="3.2" font-weight="bold" fill="#3a3a3a" text-anchor="end">0.00</text>
<text x="264.3" y="215.21" font-size="3.2" font-weight="bold" fill="#3a3a3a" text-anchor="end">-0.05</text>
<text x="264.3" y="220.02" font-size="3.2" font-weight="bold" fill="#3a3a3a" text-anchor="end">-0.10</text>
<text x="264.3" y="224.83" font-size="3.2" font-weight="bold" fill="#3a3a3a" text-anchor="end">-0.15</text>
<text x="264.3" y="229.64000000000001" font-size="3.2" font-weight="bold" fill="#3a3a3a" text-anchor="end">-0.20</text>
<text x="264.3" y="234.45" font-size="3.2" font-weight="bold" fill="#3a3a3a" text-anchor="end">-0.25</text>
<text x="264.3" y="239.26" font-size="3.2" font-weight="bold" fill="#3a3a3a" text-anchor="end">-0.30</text>
<text x="264.3" y="244.07" font-size="3.2" font-weight="bold" fill="#3a3a3a" text-anchor="end">-0.35</text>
<text x="264.3" y="248.88" font-size="3.2" font-weight="bold" fill="#3a3a3a" text-anchor="end">-0.40</text>
<text x="264.3" y="253.69" font-size="3.2" font-weight="bold" fill="#3a3a3a" text-anchor="end">-0.45</text>
<text x="264.3" y="258.5" font-size="3.2" font-weight="bold" fill="#3a3a3a" text-anchor="end">-0.50</text>
<rect x="278.7" y="259.7" width="1.80" height="16.69999999999999" fill="rgb(125,125,125)"/>
<rect x="289.7" y="259.7" width="1.10" height="16.69999999999999" fill="rgb(150,150,150)"/>
<rect x="292.6" y="259.7" width="1.10" height="16.69999999999999" fill="rgb(150,150,150)"/>
<rect x="296.6" y="259.7" width="1.20" height="16.69999999999999" fill="rgb(100,100,100)"/>
<rect x="300" y="259.7" width="1.40" height="16.69999999999999" fill="rgb(200,200,200)"/>
<rect x="308.9" y="259.7" width="1.40" height="16.69999999999999" fill="rgb(100,100,100)"/>
<rect x="316" y="259.7" width="1.80" height="16.69999999999999" fill="rgb(150,150,150)"/>
<rect x="317.8" y="259.7" width="1.80" height="16.69999999999999" fill="rgb(100,100,100)"/>
<rect x="319.6" y="259.7" width="1.40" height="16.69999999999999" fill="rgb(175,175,175)"/>
<rect x="321.7" y="259.7" width="1.40" height="16.69999999999999" fill="rgb(100,100,100)"/>
<rect x="324.6" y="259.7" width="2.10" height="16.69999999999999" fill="rgb(25,25,25)"/>
<rect x="327.4" y="259.7" width="1.80" height="16.69999999999999" fill="rgb(175,175,175)"/>
<rect x="331.3" y="259.7" width="1.40" height="16.69999999999999" fill="rgb(150,150,150)"/>
<rect x="334.2" y="259.7" width="1.40" height="16.69999999999999" fill="rgb(75,75,75)"/>
<rect x="337" y="259.7" width="2.70" height="16.69999999999999" fill="rgb(175,175,175)"/>
<rect x="339.7" y="259.7" width="1.50" height="16.69999999999999" fill="rgb(200,200,200)"/>
<rect x="343.5" y="259.7" width="1.60" height="16.69999999999999" fill="rgb(50,50,50)"/>
<rect x="345.5" y="259.7" width="6.10" height="16.69999999999999" fill="rgb(225,225,225)"/>
<rect x="352" y="259.7" width="1.90" height="16.69999999999999" fill="rgb(100,100,100)"/>
<rect x="354.7" y="259.7" width="2.30" height="16.69999999999999" fill="rgb(200,200,200)"/>
<rect x="358.9" y="259.7" width="1.90" height="16.69999999999999" fill="rgb(25,25,25)"/>
<rect x="361.2" y="259.7" width="1.60" height="16.69999999999999" fill="rgb(150,150,150)"/>
<rect x="362.8" y="259.7" width="1.90" height="16.69999999999999" fill="rgb(100,100,100)"/>
<rect x="366.2" y="259.7" width="1.20" height="16.69999999999999" fill="rgb(175,175,175)"/>
<rect x="368.9" y="259.7" width="0.80" height="16.69999999999999" fill="rgb(175,175,175)"/>
<rect x="370.8" y="259.7" width="1.60" height="16.69999999999999" fill="rgb(150,150,150)"/>
<rect x="373.2" y="259.7" width="1.20" height="16.69999999999999" fill="rgb(150,150,150)"/>
<defs><linearGradient id="cb5" x1="0" x2="1" y1="0" y2="0"><stop offset="0" stop-color="#ea4662"/><stop offset="0.16" stop-color="#ea4864"/><stop offset="0.22" stop-color="#e6566c"/><stop offset="0.33" stop-color="#e66274"/><stop offset="0.36" stop-color="#e6a6c6"/><stop offset="0.48" stop-color="#e2b8dc"/><stop offset="0.52" stop-color="#cec6ee"/><stop offset="0.69" stop-color="#bebef0"/><stop offset="0.72" stop-color="#9090ea"/><stop offset="0.78" stop-color="#8080e6"/><stop offset="0.8" stop-color="#5252dc"/><stop offset="0.94" stop-color="#4242d4"/><stop offset="0.96" stop-color="#1e1ea4"/><stop offset="1" stop-color="#1a1a98"/></linearGradient></defs>
<rect x="265.5" y="276.4" width="109.0" height="4.400000000000034" fill="url(#cb5)"/>
<polyline points="266,209.4 271.2,213.7 275.8,217.7 279.1,220.9 280.7,216 283.9,218.3 287.4,221.2 290.8,223.5 294.3,224.6 297.8,226.7 301.2,228.7 305.8,232.7 310.5,236.2 315.1,239.6 318,241.9 322.6,245.4 327.2,248.3 331.8,250.6 336.5,252.3 341.1,254 345.7,255.2 350.3,255.8 352.6,254.8 354.9,253.5 357.8,254.6 359,248.8 359.8,239.6 361.3,236.7 363,235.6 364.2,231.5 365.3,226.9 367,227.5 368.8,225.2 370.5,226.3 371.7,225.8 372.8,216.5 374,216 374.5,209.6" fill="none" stroke="#b4f2b4" stroke-width="2.5" stroke-linejoin="round" stroke-linecap="round"/>
<polyline points="266,209.4 271.2,213.7 275.8,217.7 279.1,220.9 280.7,216 283.9,218.3 287.4,221.2 290.8,223.5 294.3,224.6 297.8,226.7 301.2,228.7 305.8,232.7 310.5,236.2 315.1,239.6 318,241.9 322.6,245.4 327.2,248.3 331.8,250.6 336.5,252.3 341.1,254 345.7,255.2 350.3,255.8 352.6,254.8 354.9,253.5 357.8,254.6 359,248.8 359.8,239.6 361.3,236.7 363,235.6 364.2,231.5 365.3,226.9 367,227.5 368.8,225.2 370.5,226.3 371.7,225.8 372.8,216.5 374,216 374.5,209.6" fill="none" stroke="#3ad03a" stroke-width="1.3" stroke-linejoin="round" stroke-linecap="round"/>
<text x="264.50" y="204.50" font-size="4.1" fill="#1a1a1a" text-anchor="start" font-weight="bold" textLength="103.00" lengthAdjust="spacingAndGlyphs" stroke="#1a1a1a" stroke-width="0.12">Enrichment plot: SCHUHMACHER_MYC TARGETS UP</text>
<text x="327.20" y="222.10" font-size="7.9" fill="#0a0a0a" text-anchor="start" font-weight="bold" textLength="32.30" lengthAdjust="spacingAndGlyphs" stroke="#0a0a0a" stroke-width="0.15">NES=-1.80</text>
<text x="327.20" y="231.00" font-size="7.9" fill="#0a0a0a" text-anchor="start" font-weight="bold" textLength="25.40" lengthAdjust="spacingAndGlyphs" stroke="#0a0a0a" stroke-width="0.15">q=0.002</text>
<text x="265.50" y="286.50" font-size="6.6" fill="#c82e46" text-anchor="start" font-weight="bold" textLength="13.60" lengthAdjust="spacingAndGlyphs" stroke="#c82e46" stroke-width="0.2">shJ1C</text>
<text x="373.90" y="286.50" font-size="6.6" fill="#2c2c8c" text-anchor="end" font-weight="bold" textLength="12.00" lengthAdjust="spacingAndGlyphs" stroke="#2c2c8c" stroke-width="0.2">shScr</text>
<rect x="387.2" y="195.8" width="130.8" height="18.0" fill="#e9e9e9"/>
<rect x="387.2" y="213.8" width="16.5" height="48.19999999999999" fill="#f3f3f3"/>
<rect x="387.2" y="262" width="16.5" height="19.19999999999999" fill="#ebebeb"/>
<line x1="403.7" y1="213.8" x2="403.7" y2="281.2" stroke="#bdbdbd" stroke-width="0.6"/>
<line x1="403.7" y1="214.8" x2="518" y2="214.8" stroke="#d8d8d8" stroke-width="0.5"/>
<line x1="403.7" y1="261.4" x2="512.5" y2="261.4" stroke="#cfcfcf" stroke-width="0.5"/>
<text x="402.5" y="218.2" font-size="3.2" font-weight="bold" fill="#3a3a3a" text-anchor="end">0.0</text>
<text x="402.5" y="225.88" font-size="3.2" font-weight="bold" fill="#3a3a3a" text-anchor="end">-0.1</text>
<text x="402.5" y="233.56" font-size="3.2" font-weight="bold" fill="#3a3a3a" text-anchor="end">-0.2</text>
<text x="402.5" y="241.23999999999998" font-size="3.2" font-weight="bold" fill="#3a3a3a" text-anchor="end">-0.3</text>
<text x="402.5" y="248.92" font-size="3.2" font-weight="bold" fill="#3a3a3a" text-anchor="end">-0.4</text>
<text x="402.5" y="256.6" font-size="3.2" font-weight="bold" fill="#3a3a3a" text-anchor="end">-0.5</text>
<text x="0" y="0" font-size="3.0" fill="#333" textLength="31.60" lengthAdjust="spacingAndGlyphs" transform="translate(393.9,254.6) rotate(-90)">Enrichment score (ES)</text>
<text x="0" y="0" font-size="3.0" fill="#333" textLength="8.80" lengthAdjust="spacingAndGlyphs" transform="translate(393.6,280.8) rotate(-90)">Ranked</text>
<rect x="409.5" y="262" width="1.20" height="15.600000000000023" fill="rgb(150,150,150)"/>
<rect x="421.7" y="262" width="1.10" height="15.600000000000023" fill="rgb(150,150,150)"/>
<rect x="427.4" y="262" width="1.20" height="15.600000000000023" fill="rgb(150,150,150)"/>
<rect x="434.3" y="262" width="1.20" height="15.600000000000023" fill="rgb(100,100,100)"/>
<rect x="440.7" y="262" width="1.70" height="15.600000000000023" fill="rgb(100,100,100)"/>
<rect x="449.3" y="262" width="1.20" height="15.600000000000023" fill="rgb(150,150,150)"/>
<rect x="454.5" y="262" width="1.20" height="15.600000000000023" fill="rgb(150,150,150)"/>
<rect x="457.5" y="262" width="1.70" height="15.600000000000023" fill="rgb(175,175,175)"/>
<rect x="462" y="262" width="4.00" height="15.600000000000023" fill="rgb(100,100,100)"/>
<rect x="467.3" y="262" width="1.10" height="15.600000000000023" fill="rgb(150,150,150)"/>
<rect x="470.7" y="262" width="1.80" height="15.600000000000023" fill="rgb(150,150,150)"/>
<rect x="474.5" y="262" width="0.80" height="15.600000000000023" fill="rgb(175,175,175)"/>
<rect x="478.8" y="262" width="4.00" height="15.600000000000023" fill="rgb(150,150,150)"/>
<rect x="484.6" y="262" width="4.00" height="15.600000000000023" fill="rgb(100,100,100)"/>
<rect x="490.3" y="262" width="3.50" height="15.600000000000023" fill="rgb(100,100,100)"/>
<rect x="494.4" y="262" width="2.30" height="15.600000000000023" fill="rgb(150,150,150)"/>
<rect x="497.8" y="262" width="2.20" height="15.600000000000023" fill="rgb(100,100,100)"/>
<rect x="501.9" y="262" width="2.90" height="15.600000000000023" fill="rgb(150,150,150)"/>
<rect x="506.5" y="262" width="1.70" height="15.600000000000023" fill="rgb(150,150,150)"/>
<rect x="510" y="262" width="1.00" height="15.600000000000023" fill="rgb(150,150,150)"/>
<defs><linearGradient id="cb6" x1="0" x2="1" y1="0" y2="0"><stop offset="0" stop-color="#ea4662"/><stop offset="0.16" stop-color="#ea4864"/><stop offset="0.22" stop-color="#e6566c"/><stop offset="0.33" stop-color="#e66274"/><stop offset="0.36" stop-color="#e6a6c6"/><stop offset="0.48" stop-color="#e2b8dc"/><stop offset="0.52" stop-color="#cec6ee"/><stop offset="0.69" stop-color="#bebef0"/><stop offset="0.72" stop-color="#9090ea"/><stop offset="0.78" stop-color="#8080e6"/><stop offset="0.8" stop-color="#5252dc"/><stop offset="0.94" stop-color="#4242d4"/><stop offset="0.96" stop-color="#1e1ea4"/><stop offset="1" stop-color="#1a1a98"/></linearGradient></defs>
<rect x="403.7" y="277.6" width="108.80000000000001" height="3.599999999999966" fill="url(#cb6)"/>
<polyline points="403.8,217.2 406.7,219.2 409.5,221 410.7,219.5 413,220.6 416.5,223.3 421.1,226.7 425.7,229 430.3,231.9 434.9,233.7 439.5,236 444.2,238.3 448.8,241.2 454,244 458.6,246.9 463.2,249.8 467.8,251.5 472.5,253.8 477.1,256.2 480.5,257.9 485.2,259 488.6,257.3 492.1,255 496.7,252.7 498.4,249.8 500.2,244.6 502.5,240 504.8,237.1 507.1,235.4 509.4,234.8 510.5,233.1 511.1,228.5 511.9,227.3 512.3,216.9" fill="none" stroke="#b4f2b4" stroke-width="2.5" stroke-linejoin="round" stroke-linecap="round"/>
<polyline points="403.8,217.2 406.7,219.2 409.5,221 410.7,219.5 413,220.6 416.5,223.3 421.1,226.7 425.7,229 430.3,231.9 434.9,233.7 439.5,236 444.2,238.3 448.8,241.2 454,244 458.6,246.9 463.2,249.8 467.8,251.5 472.5,253.8 477.1,256.2 480.5,257.9 485.2,259 488.6,257.3 492.1,255 496.7,252.7 498.4,249.8 500.2,244.6 502.5,240 504.8,237.1 507.1,235.4 509.4,234.8 510.5,233.1 511.1,228.5 511.9,227.3 512.3,216.9" fill="none" stroke="#3ad03a" stroke-width="1.3" stroke-linejoin="round" stroke-linecap="round"/>
<text x="432.60" y="201.30" font-size="4.7" fill="#1a1a1a" text-anchor="start" font-weight="bold" textLength="41.10" lengthAdjust="spacingAndGlyphs" stroke="#1a1a1a" stroke-width="0.12">Enrichment plot:</text>
<text x="388.50" y="207.00" font-size="4.7" fill="#1a1a1a" text-anchor="start" font-weight="bold" textLength="132.00" lengthAdjust="spacingAndGlyphs" stroke="#1a1a1a" stroke-width="0.12">ACOSTA_PROLIFERATION_INDEPENDENT_MYC_TARGE</text>
<text x="445.30" y="212.90" font-size="4.7" fill="#1a1a1a" text-anchor="start" font-weight="bold" textLength="15.50" lengthAdjust="spacingAndGlyphs" stroke="#1a1a1a" stroke-width="0.12">TS_UP</text>
<text x="472.50" y="224.40" font-size="7.9" fill="#0a0a0a" text-anchor="start" font-weight="bold" textLength="32.30" lengthAdjust="spacingAndGlyphs" stroke="#0a0a0a" stroke-width="0.15">NES=-2.05</text>
<text x="472.50" y="233.70" font-size="7.9" fill="#0a0a0a" text-anchor="start" font-weight="bold" textLength="21.00" lengthAdjust="spacingAndGlyphs" stroke="#0a0a0a" stroke-width="0.15">q=0.00</text>
<text x="403.70" y="287.00" font-size="6.6" fill="#c82e46" text-anchor="start" font-weight="bold" textLength="13.60" lengthAdjust="spacingAndGlyphs" stroke="#c82e46" stroke-width="0.2">shJ1C</text>
<text x="511.90" y="287.00" font-size="6.6" fill="#2c2c8c" text-anchor="end" font-weight="bold" textLength="12.00" lengthAdjust="spacingAndGlyphs" stroke="#2c2c8c" stroke-width="0.2">shScr</text>
<rect x="259.5" y="297.5" width="115.5" height="7.5" fill="#e9e9e9"/>
<rect x="259.5" y="305" width="6.0" height="53.19999999999999" fill="#f3f3f3"/>
<rect x="259.5" y="358.2" width="6.0" height="20.900000000000034" fill="#ebebeb"/>
<line x1="265.5" y1="305" x2="265.5" y2="379.1" stroke="#bdbdbd" stroke-width="0.6"/>
<line x1="265.5" y1="305.8" x2="375" y2="305.8" stroke="#d8d8d8" stroke-width="0.5"/>
<line x1="265.5" y1="357.59999999999997" x2="374.5" y2="357.59999999999997" stroke="#cfcfcf" stroke-width="0.5"/>
<line x1="265.5" y1="354.5" x2="374.5" y2="354.5" stroke="#a8a8a8" stroke-width="0.5"/>
<text x="264.3" y="308.6" font-size="3.2" font-weight="bold" fill="#3a3a3a" text-anchor="end">0.7</text>
<text x="264.3" y="315.20000000000005" font-size="3.2" font-weight="bold" fill="#3a3a3a" text-anchor="end">0.6</text>
<text x="264.3" y="321.8" font-size="3.2" font-weight="bold" fill="#3a3a3a" text-anchor="end">0.5</text>
<text x="264.3" y="328.40000000000003" font-size="3.2" font-weight="bold" fill="#3a3a3a" text-anchor="end">0.4</text>
<text x="264.3" y="335.0" font-size="3.2" font-weight="bold" fill="#3a3a3a" text-anchor="end">0.3</text>
<text x="264.3" y="341.6" font-size="3.2" font-weight="bold" fill="#3a3a3a" text-anchor="end">0.2</text>
<text x="264.3" y="348.2" font-size="3.2" font-weight="bold" fill="#3a3a3a" text-anchor="end">0.1</text>
<text x="264.3" y="354.8" font-size="3.2" font-weight="bold" fill="#3a3a3a" text-anchor="end">0.0</text>
<rect x="266" y="358.2" width="5.10" height="16.600000000000023" fill="rgb(5,5,5)"/>
<rect x="271.1" y="358.2" width="1.40" height="16.600000000000023" fill="rgb(75,75,75)"/>
<rect x="274.7" y="358.2" width="1.80" height="16.600000000000023" fill="rgb(125,125,125)"/>
<rect x="278.6" y="358.2" width="2.50" height="16.600000000000023" fill="rgb(200,200,200)"/>
<rect x="281.1" y="358.2" width="1.40" height="16.600000000000023" fill="rgb(175,175,175)"/>
<rect x="282.5" y="358.2" width="1.90" height="16.600000000000023" fill="rgb(200,200,200)"/>
<rect x="284.6" y="358.2" width="1.10" height="16.600000000000023" fill="rgb(100,100,100)"/>
<rect x="287.8" y="358.2" width="1.80" height="16.600000000000023" fill="rgb(225,225,225)"/>
<rect x="290.3" y="358.2" width="2.20" height="16.600000000000023" fill="rgb(150,150,150)"/>
<rect x="292.5" y="358.2" width="2.80" height="16.600000000000023" fill="rgb(200,200,200)"/>
<rect x="298.2" y="358.2" width="2.80" height="16.600000000000023" fill="rgb(150,150,150)"/>
<rect x="301" y="358.2" width="1.10" height="16.600000000000023" fill="rgb(150,150,150)"/>
<rect x="304.3" y="358.2" width="1.40" height="16.600000000000023" fill="rgb(150,150,150)"/>
<rect x="306.4" y="358.2" width="2.10" height="16.600000000000023" fill="rgb(125,125,125)"/>
<rect x="309" y="358.2" width="1.30" height="16.600000000000023" fill="rgb(200,200,200)"/>
<rect x="310.7" y="358.2" width="1.40" height="16.600000000000023" fill="rgb(75,75,75)"/>
<rect x="312.5" y="358.2" width="1.70" height="16.600000000000023" fill="rgb(200,200,200)"/>
<rect x="316" y="358.2" width="1.40" height="16.600000000000023" fill="rgb(150,150,150)"/>
<rect x="317.4" y="358.2" width="2.60" height="16.600000000000023" fill="rgb(200,200,200)"/>
<rect x="320.3" y="358.2" width="1.40" height="16.600000000000023" fill="rgb(75,75,75)"/>
<rect x="323.8" y="358.2" width="2.90" height="16.600000000000023" fill="rgb(150,150,150)"/>
<rect x="328.5" y="358.2" width="1.70" height="16.600000000000023" fill="rgb(125,125,125)"/>
<rect x="333.1" y="358.2" width="1.80" height="16.600000000000023" fill="rgb(25,25,25)"/>
<rect x="335.2" y="358.2" width="2.30" height="16.600000000000023" fill="rgb(150,150,150)"/>
<rect x="337.5" y="358.2" width="1.60" height="16.600000000000023" fill="rgb(100,100,100)"/>
<rect x="339.1" y="358.2" width="4.20" height="16.600000000000023" fill="rgb(50,50,50)"/>
<rect x="344.5" y="358.2" width="3.00" height="16.600000000000023" fill="rgb(200,200,200)"/>
<rect x="348.3" y="358.2" width="1.90" height="16.600000000000023" fill="rgb(125,125,125)"/>
<rect x="350.2" y="358.2" width="2.00" height="16.600000000000023" fill="rgb(25,25,25)"/>
<rect x="352.2" y="358.2" width="2.60" height="16.600000000000023" fill="rgb(150,150,150)"/>
<rect x="356.8" y="358.2" width="1.90" height="16.600000000000023" fill="rgb(25,25,25)"/>
<rect x="360.2" y="358.2" width="2.30" height="16.600000000000023" fill="rgb(150,150,150)"/>
<rect x="373.7" y="358.2" width="0.80" height="16.600000000000023" fill="rgb(200,200,200)"/>
<defs><linearGradient id="cb7" x1="0" x2="1" y1="0" y2="0"><stop offset="0" stop-color="#a01828"/><stop offset="0.05" stop-color="#a01828"/><stop offset="0.055" stop-color="#dcb4d4"/><stop offset="0.1" stop-color="#d4ccf2"/><stop offset="0.45" stop-color="#c4c4f2"/><stop offset="0.48" stop-color="#9494ec"/><stop offset="0.62" stop-color="#8484ea"/><stop offset="0.65" stop-color="#6464e2"/><stop offset="0.905" stop-color="#5c5ce0"/><stop offset="0.915" stop-color="#2020b0"/><stop offset="1" stop-color="#1c1ca8"/></linearGradient></defs>
<rect x="265.5" y="374.8" width="109.0" height="4.300000000000011" fill="url(#cb7)"/>
<polyline points="266.4,353.8 267.2,341.1 268.9,323.8 270.7,309.9 271.8,308.2 273.5,308.8 279.3,312.2 285.1,315.7 290.8,319.2 296.6,322 302.4,325.5 308.2,329 313.9,332.4 318,334.7 323.8,338.2 329.5,340.5 335.3,342.2 339.9,343.4 343.4,343.4 348,344.5 352.6,345.5 357.2,346.3 361.8,347.4 366.5,350.3 371.1,353.2 374,354.9" fill="none" stroke="#b4f2b4" stroke-width="2.5" stroke-linejoin="round" stroke-linecap="round"/>
<polyline points="266.4,353.8 267.2,341.1 268.9,323.8 270.7,309.9 271.8,308.2 273.5,308.8 279.3,312.2 285.1,315.7 290.8,319.2 296.6,322 302.4,325.5 308.2,329 313.9,332.4 318,334.7 323.8,338.2 329.5,340.5 335.3,342.2 339.9,343.4 343.4,343.4 348,344.5 352.6,345.5 357.2,346.3 361.8,347.4 366.5,350.3 371.1,353.2 374,354.9" fill="none" stroke="#3ad03a" stroke-width="1.3" stroke-linejoin="round" stroke-linecap="round"/>
<text x="271.25" y="303.40" font-size="4.7" fill="#1a1a1a" text-anchor="start" font-weight="bold" textLength="88.25" lengthAdjust="spacingAndGlyphs" stroke="#1a1a1a" stroke-width="0.12">Enrichment plot: ZUBER_MYB_DN_UP</text>
<text x="336.50" y="318.20" font-size="7.9" fill="#0a0a0a" text-anchor="start" font-weight="bold" textLength="29.40" lengthAdjust="spacingAndGlyphs" stroke="#0a0a0a" stroke-width="0.15">NES=4.17</text>
<text x="336.50" y="327.50" font-size="7.9" fill="#0a0a0a" text-anchor="start" font-weight="bold" textLength="21.00" lengthAdjust="spacingAndGlyphs" stroke="#0a0a0a" stroke-width="0.15">q=0.00</text>
<text x="265.50" y="385.20" font-size="6.6" fill="#c82e46" text-anchor="start" font-weight="bold" textLength="13.60" lengthAdjust="spacingAndGlyphs" stroke="#c82e46" stroke-width="0.2">shJ1C</text>
<text x="373.90" y="385.20" font-size="6.6" fill="#2c2c8c" text-anchor="end" font-weight="bold" textLength="12.00" lengthAdjust="spacingAndGlyphs" stroke="#2c2c8c" stroke-width="0.2">shScr</text>
<rect x="395" y="297.5" width="116.30000000000001" height="7.5" fill="#e9e9e9"/>
<rect x="395" y="305" width="7" height="53.0" fill="#f3f3f3"/>
<rect x="395" y="358.0" width="7" height="21.100000000000023" fill="#ebebeb"/>
<line x1="402" y1="305" x2="402" y2="379.1" stroke="#bdbdbd" stroke-width="0.6"/>
<line x1="402" y1="305.8" x2="511.3" y2="305.8" stroke="#d8d8d8" stroke-width="0.5"/>
<line x1="402" y1="357.4" x2="510.5" y2="357.4" stroke="#cfcfcf" stroke-width="0.5"/>
<text x="400.8" y="308.8" font-size="3.2" font-weight="bold" fill="#3a3a3a" text-anchor="end">0.0</text>
<text x="400.8" y="316.23333333333335" font-size="3.2" font-weight="bold" fill="#3a3a3a" text-anchor="end">-0.1</text>
<text x="400.8" y="323.6666666666667" font-size="3.2" font-weight="bold" fill="#3a3a3a" text-anchor="end">-0.2</text>
<text x="400.8" y="331.1" font-size="3.2" font-weight="bold" fill="#3a3a3a" text-anchor="end">-0.3</text>
<text x="400.8" y="338.5333333333333" font-size="3.2" font-weight="bold" fill="#3a3a3a" text-anchor="end">-0.4</text>
<text x="400.8" y="345.96666666666664" font-size="3.2" font-weight="bold" fill="#3a3a3a" text-anchor="end">-0.5</text>
<text x="400.8" y="353.4" font-size="3.2" font-weight="bold" fill="#3a3a3a" text-anchor="end">-0.6</text>
<rect x="409.5" y="358.0" width="0.80" height="16.399999999999977" fill="rgb(150,150,150)"/>
<rect x="410.3" y="358.0" width="2.00" height="16.399999999999977" fill="rgb(100,100,100)"/>
<rect x="412.3" y="358.0" width="0.90" height="16.399999999999977" fill="rgb(150,150,150)"/>
<rect x="432" y="358.0" width="1.40" height="16.399999999999977" fill="rgb(150,150,150)"/>
<rect x="435.7" y="358.0" width="0.90" height="16.399999999999977" fill="rgb(200,200,200)"/>
<rect x="437.5" y="358.0" width="1.40" height="16.399999999999977" fill="rgb(150,150,150)"/>
<rect x="442.6" y="358.0" width="1.90" height="16.399999999999977" fill="rgb(150,150,150)"/>
<rect x="446.3" y="358.0" width="1.40" height="16.399999999999977" fill="rgb(175,175,175)"/>
<rect x="451.4" y="358.0" width="1.40" height="16.399999999999977" fill="rgb(150,150,150)"/>
<rect x="458.8" y="358.0" width="2.30" height="16.399999999999977" fill="rgb(200,200,200)"/>
<rect x="463.9" y="358.0" width="1.80" height="16.399999999999977" fill="rgb(150,150,150)"/>
<rect x="466.6" y="358.0" width="1.90" height="16.399999999999977" fill="rgb(175,175,175)"/>
<rect x="471.2" y="358.0" width="2.30" height="16.399999999999977" fill="rgb(100,100,100)"/>
<rect x="480.1" y="358.0" width="1.90" height="16.399999999999977" fill="rgb(100,100,100)"/>
<rect x="482" y="358.0" width="1.50" height="16.399999999999977" fill="rgb(175,175,175)"/>
<rect x="485.1" y="358.0" width="2.30" height="16.399999999999977" fill="rgb(100,100,100)"/>
<rect x="487.4" y="358.0" width="1.60" height="16.399999999999977" fill="rgb(200,200,200)"/>
<rect x="489.3" y="358.0" width="1.90" height="16.399999999999977" fill="rgb(100,100,100)"/>
<rect x="491.2" y="358.0" width="4.60" height="16.399999999999977" fill="rgb(75,75,75)"/>
<rect x="495.8" y="358.0" width="1.60" height="16.399999999999977" fill="rgb(25,25,25)"/>
<rect x="497.4" y="358.0" width="3.80" height="16.399999999999977" fill="rgb(100,100,100)"/>
<rect x="501.2" y="358.0" width="2.30" height="16.399999999999977" fill="rgb(150,150,150)"/>
<rect x="504" y="358.0" width="1.80" height="16.399999999999977" fill="rgb(75,75,75)"/>
<rect x="505.8" y="358.0" width="2.40" height="16.399999999999977" fill="rgb(150,150,150)"/>
<rect x="508.2" y="358.0" width="0.80" height="16.399999999999977" fill="rgb(100,100,100)"/>
<defs><linearGradient id="cb8" x1="0" x2="1" y1="0" y2="0"><stop offset="0" stop-color="#e04862"/><stop offset="0.048" stop-color="#e04862"/><stop offset="0.053" stop-color="#f0bcd0"/><stop offset="0.072" stop-color="#f0bcd0"/><stop offset="0.08" stop-color="#cacaf6"/><stop offset="0.29" stop-color="#c8c8f6"/><stop offset="0.3" stop-color="#b8b8f0"/><stop offset="0.47" stop-color="#b8b8f0"/><stop offset="0.48" stop-color="#8c8cea"/><stop offset="0.61" stop-color="#8c8cea"/><stop offset="0.62" stop-color="#6464e2"/><stop offset="0.905" stop-color="#5a5ae0"/><stop offset="0.915" stop-color="#2020b0"/><stop offset="1" stop-color="#1c1ca8"/></linearGradient></defs>
<rect x="402" y="374.4" width="108.5" height="4.7000000000000455" fill="url(#cb8)"/>
<polyline points="401.5,307.6 409.5,313.4 421.1,322 432.6,330.1 444.2,337 454,341.7 459.8,345.1 465.5,348 471.3,350.9 475.9,352.4 479.4,353.8 482.3,352.6 485.2,351.5 488.6,347.4 492.1,344.5 494.4,337.6 497.8,331.8 501.3,325.5 504.8,320.3 507.1,314.5 510,307.6" fill="none" stroke="#b4f2b4" stroke-width="2.5" stroke-linejoin="round" stroke-linecap="round"/>
<polyline points="401.5,307.6 409.5,313.4 421.1,322 432.6,330.1 444.2,337 454,341.7 459.8,345.1 465.5,348 471.3,350.9 475.9,352.4 479.4,353.8 482.3,352.6 485.2,351.5 488.6,347.4 492.1,344.5 494.4,337.6 497.8,331.8 501.3,325.5 504.8,320.3 507.1,314.5 510,307.6" fill="none" stroke="#3ad03a" stroke-width="1.3" stroke-linejoin="round" stroke-linecap="round"/>
<text x="413.75" y="303.40" font-size="4.7" fill="#1a1a1a" text-anchor="start" font-weight="bold" textLength="75.75" lengthAdjust="spacingAndGlyphs" stroke="#1a1a1a" stroke-width="0.12">Enrichment plot: MYC_MODULE</text>
<text x="456.30" y="318.60" font-size="7.9" fill="#0a0a0a" text-anchor="start" font-weight="bold" textLength="32.10" lengthAdjust="spacingAndGlyphs" stroke="#0a0a0a" stroke-width="0.15">NES=-2.64</text>
<text x="456.30" y="327.80" font-size="7.9" fill="#0a0a0a" text-anchor="start" font-weight="bold" textLength="21.00" lengthAdjust="spacingAndGlyphs" stroke="#0a0a0a" stroke-width="0.15">q=0.00</text>
<text x="402.00" y="384.50" font-size="6.6" fill="#c82e46" text-anchor="start" font-weight="bold" textLength="13.60" lengthAdjust="spacingAndGlyphs" stroke="#c82e46" stroke-width="0.2">shJ1C</text>
<text x="509.90" y="384.50" font-size="6.6" fill="#2c2c8c" text-anchor="end" font-weight="bold" textLength="12.00" lengthAdjust="spacingAndGlyphs" stroke="#2c2c8c" stroke-width="0.2">shScr</text>
<rect x="258.2" y="396.0" width="119.30000000000001" height="6.399999999999977" fill="#e9e9e9"/>
<rect x="258.2" y="402.4" width="7.300000000000011" height="53.400000000000034" fill="#f3f3f3"/>
<rect x="258.2" y="455.8" width="7.300000000000011" height="21.599999999999966" fill="#ebebeb"/>
<line x1="265.5" y1="402.4" x2="265.5" y2="477.4" stroke="#bdbdbd" stroke-width="0.6"/>
<line x1="265.5" y1="403.3" x2="377.5" y2="403.3" stroke="#d8d8d8" stroke-width="0.5"/>
<line x1="265.5" y1="455.2" x2="375" y2="455.2" stroke="#cfcfcf" stroke-width="0.5"/>
<text x="264.3" y="407.2" font-size="3.2" font-weight="bold" fill="#3a3a3a" text-anchor="end">0.0</text>
<text x="264.3" y="414.66666666666663" font-size="3.2" font-weight="bold" fill="#3a3a3a" text-anchor="end">-0.1</text>
<text x="264.3" y="422.1333333333333" font-size="3.2" font-weight="bold" fill="#3a3a3a" text-anchor="end">-0.2</text>
<text x="264.3" y="429.6" font-size="3.2" font-weight="bold" fill="#3a3a3a" text-anchor="end">-0.3</text>
<text x="264.3" y="437.06666666666666" font-size="3.2" font-weight="bold" fill="#3a3a3a" text-anchor="end">-0.4</text>
<text x="264.3" y="444.5333333333333" font-size="3.2" font-weight="bold" fill="#3a3a3a" text-anchor="end">-0.5</text>
<text x="264.3" y="452.0" font-size="3.2" font-weight="bold" fill="#3a3a3a" text-anchor="end">-0.6</text>
<rect x="307.6" y="455.8" width="1.40" height="17.5" fill="rgb(175,175,175)"/>
<rect x="314" y="455.8" width="1.40" height="17.5" fill="rgb(150,150,150)"/>
<rect x="316.8" y="455.8" width="1.10" height="17.5" fill="rgb(150,150,150)"/>
<rect x="319.3" y="455.8" width="1.80" height="17.5" fill="rgb(150,150,150)"/>
<rect x="321.1" y="455.8" width="2.50" height="17.5" fill="rgb(75,75,75)"/>
<rect x="328.6" y="455.8" width="1.40" height="17.5" fill="rgb(150,150,150)"/>
<rect x="332.1" y="455.8" width="2.50" height="17.5" fill="rgb(100,100,100)"/>
<rect x="334.6" y="455.8" width="1.00" height="17.5" fill="rgb(150,150,150)"/>
<rect x="338.2" y="455.8" width="1.80" height="17.5" fill="rgb(50,50,50)"/>
<rect x="341.1" y="455.8" width="1.70" height="17.5" fill="rgb(175,175,175)"/>
<rect x="344.3" y="455.8" width="1.70" height="17.5" fill="rgb(125,125,125)"/>
<rect x="347.8" y="455.8" width="1.80" height="17.5" fill="rgb(150,150,150)"/>
<rect x="349.6" y="455.8" width="1.80" height="17.5" fill="rgb(50,50,50)"/>
<rect x="351.7" y="455.8" width="1.50" height="17.5" fill="rgb(5,5,5)"/>
<rect x="353.5" y="455.8" width="2.90" height="17.5" fill="rgb(225,225,225)"/>
<rect x="356.4" y="455.8" width="2.10" height="17.5" fill="rgb(175,175,175)"/>
<rect x="361.7" y="455.8" width="1.80" height="17.5" fill="rgb(75,75,75)"/>
<rect x="364.9" y="455.8" width="2.10" height="17.5" fill="rgb(25,25,25)"/>
<rect x="367.8" y="455.8" width="1.40" height="17.5" fill="rgb(125,125,125)"/>
<rect x="371" y="455.8" width="2.80" height="17.5" fill="rgb(50,50,50)"/>
<defs><linearGradient id="cb9" x1="0" x2="1" y1="0" y2="0"><stop offset="0" stop-color="#ea4662"/><stop offset="0.16" stop-color="#ea4864"/><stop offset="0.22" stop-color="#e6566c"/><stop offset="0.33" stop-color="#e66274"/><stop offset="0.36" stop-color="#e6a6c6"/><stop offset="0.48" stop-color="#e2b8dc"/><stop offset="0.52" stop-color="#cec6ee"/><stop offset="0.69" stop-color="#bebef0"/><stop offset="0.72" stop-color="#9090ea"/><stop offset="0.78" stop-color="#8080e6"/><stop offset="0.8" stop-color="#5252dc"/><stop offset="0.94" stop-color="#4242d4"/><stop offset="0.96" stop-color="#1e1ea4"/><stop offset="1" stop-color="#1a1a98"/></linearGradient></defs>
<rect x="265.5" y="473.3" width="109.5" height="4.099999999999966" fill="url(#cb9)"/>
<polyline points="266,406.2 273.5,411.8 285.1,420.4 296.6,428.5 308.2,436.0 318,441.8 323.8,445.8 329.5,449.3 335.3,451.6 341.1,452.7 346.8,453.1 350.3,451.9 352.6,449.3 354.9,448.5 357.8,448.7 360.7,445.8 363.6,441.2 365.3,436.0 367,431.4 368.8,429.1 370.5,427.4 371.7,421.0 372.8,415.2 374,407.2 374.5,406.0" fill="none" stroke="#b4f2b4" stroke-width="2.5" stroke-linejoin="round" stroke-linecap="round"/>
<polyline points="266,406.2 273.5,411.8 285.1,420.4 296.6,428.5 308.2,436.0 318,441.8 323.8,445.8 329.5,449.3 335.3,451.6 341.1,452.7 346.8,453.1 350.3,451.9 352.6,449.3 354.9,448.5 357.8,448.7 360.7,445.8 363.6,441.2 365.3,436.0 367,431.4 368.8,429.1 370.5,427.4 371.7,421.0 372.8,415.2 374,407.2 374.5,406.0" fill="none" stroke="#3ad03a" stroke-width="1.3" stroke-linejoin="round" stroke-linecap="round"/>
<text x="264.80" y="400.90" font-size="4.3" fill="#1a1a1a" text-anchor="start" font-weight="bold" textLength="102.70" lengthAdjust="spacingAndGlyphs" stroke="#1a1a1a" stroke-width="0.12">Enrichment plot: SOMERVAILLE_LSC MAINTENANCE</text>
<text x="323.20" y="416.60" font-size="7.9" fill="#0a0a0a" text-anchor="start" font-weight="bold" textLength="32.30" lengthAdjust="spacingAndGlyphs" stroke="#0a0a0a" stroke-width="0.15">NES=-2.57</text>
<text x="323.20" y="425.80" font-size="7.9" fill="#0a0a0a" text-anchor="start" font-weight="bold" textLength="21.00" lengthAdjust="spacingAndGlyphs" stroke="#0a0a0a" stroke-width="0.15">q=0.00</text>
<text x="265.50" y="482.90" font-size="6.6" fill="#c82e46" text-anchor="start" font-weight="bold" textLength="13.60" lengthAdjust="spacingAndGlyphs" stroke="#c82e46" stroke-width="0.2">shJ1C</text>
<text x="374.40" y="482.90" font-size="6.6" fill="#2c2c8c" text-anchor="end" font-weight="bold" textLength="12.00" lengthAdjust="spacingAndGlyphs" stroke="#2c2c8c" stroke-width="0.2">shScr</text>
<rect x="394.5" y="392.7" width="117.0" height="12.800000000000011" fill="#e9e9e9"/>
<rect x="394.5" y="405.5" width="7.5" height="51.69999999999999" fill="#f3f3f3"/>
<rect x="394.5" y="457.2" width="7.5" height="19.30000000000001" fill="#ebebeb"/>
<line x1="402" y1="405.5" x2="402" y2="476.5" stroke="#bdbdbd" stroke-width="0.6"/>
<line x1="402" y1="406.3" x2="511.5" y2="406.3" stroke="#d8d8d8" stroke-width="0.5"/>
<line x1="402" y1="456.59999999999997" x2="511.3" y2="456.59999999999997" stroke="#cfcfcf" stroke-width="0.5"/>
<line x1="402" y1="455.1" x2="511.3" y2="455.1" stroke="#a8a8a8" stroke-width="0.5"/>
<text x="400.8" y="409.5" font-size="3.2" font-weight="bold" fill="#3a3a3a" text-anchor="end">0.9</text>
<text x="400.8" y="414.5777777777778" font-size="3.2" font-weight="bold" fill="#3a3a3a" text-anchor="end">0.8</text>
<text x="400.8" y="419.65555555555557" font-size="3.2" font-weight="bold" fill="#3a3a3a" text-anchor="end">0.7</text>
<text x="400.8" y="424.73333333333335" font-size="3.2" font-weight="bold" fill="#3a3a3a" text-anchor="end">0.6</text>
<text x="400.8" y="429.81111111111113" font-size="3.2" font-weight="bold" fill="#3a3a3a" text-anchor="end">0.5</text>
<text x="400.8" y="434.88888888888886" font-size="3.2" font-weight="bold" fill="#3a3a3a" text-anchor="end">0.4</text>
<text x="400.8" y="439.96666666666664" font-size="3.2" font-weight="bold" fill="#3a3a3a" text-anchor="end">0.3</text>
<text x="400.8" y="445.0444444444444" font-size="3.2" font-weight="bold" fill="#3a3a3a" text-anchor="end">0.2</text>
<text x="400.8" y="450.1222222222222" font-size="3.2" font-weight="bold" fill="#3a3a3a" text-anchor="end">0.1</text>
<text x="400.8" y="455.2" font-size="3.2" font-weight="bold" fill="#3a3a3a" text-anchor="end">0.0</text>
<rect x="402.6" y="457.2" width="2.90" height="16.100000000000023" fill="rgb(5,5,5)"/>
<rect x="407.8" y="457.2" width="1.70" height="16.100000000000023" fill="rgb(50,50,50)"/>
<rect x="411.8" y="457.2" width="1.80" height="16.100000000000023" fill="rgb(100,100,100)"/>
<rect x="426.8" y="457.2" width="1.40" height="16.100000000000023" fill="rgb(150,150,150)"/>
<rect x="432" y="457.2" width="1.20" height="16.100000000000023" fill="rgb(150,150,150)"/>
<rect x="446.5" y="457.2" width="1.10" height="16.100000000000023" fill="rgb(150,150,150)"/>
<rect x="451.7" y="457.2" width="1.70" height="16.100000000000023" fill="rgb(150,150,150)"/>
<defs><linearGradient id="cb10" x1="0" x2="1" y1="0" y2="0"><stop offset="0" stop-color="#ea4662"/><stop offset="0.16" stop-color="#ea4864"/><stop offset="0.22" stop-color="#e6566c"/><stop offset="0.33" stop-color="#e66274"/><stop offset="0.36" stop-color="#e6a6c6"/><stop offset="0.48" stop-color="#e2b8dc"/><stop offset="0.52" stop-color="#cec6ee"/><stop offset="0.69" stop-color="#bebef0"/><stop offset="0.72" stop-color="#9090ea"/><stop offset="0.78" stop-color="#8080e6"/><stop offset="0.8" stop-color="#5252dc"/><stop offset="0.94" stop-color="#4242d4"/><stop offset="0.96" stop-color="#1e1ea4"/><stop offset="1" stop-color="#1a1a98"/></linearGradient></defs>
<rect x="402" y="473.3" width="109.30000000000001" height="3.1999999999999886" fill="url(#cb10)"/>
<polyline points="402.4,453.8 402.8,437.6 403.5,426.1 404.3,416.8 405.5,412.2 406.7,413.4 408.4,412.2 409.5,410.8 411.3,410.2 413,409.7 414.2,408.8 415.3,409 510.5,453.8" fill="none" stroke="#b4f2b4" stroke-width="2.5" stroke-linejoin="round" stroke-linecap="round"/>
<polyline points="402.4,453.8 402.8,437.6 403.5,426.1 404.3,416.8 405.5,412.2 406.7,413.4 408.4,412.2 409.5,410.8 411.3,410.2 413,409.7 414.2,408.8 415.3,409 510.5,453.8" fill="none" stroke="#3ad03a" stroke-width="1.3" stroke-linejoin="round" stroke-linecap="round"/>
<text x="431.30" y="398.80" font-size="4.7" fill="#1a1a1a" text-anchor="start" font-weight="bold" textLength="40.00" lengthAdjust="spacingAndGlyphs" stroke="#1a1a1a" stroke-width="0.12">Enrichment plot:</text>
<text x="400.00" y="404.60" font-size="4.7" fill="#1a1a1a" text-anchor="start" font-weight="bold" textLength="106.30" lengthAdjust="spacingAndGlyphs" stroke="#1a1a1a" stroke-width="0.12">HESS_TARGETS_OF_HOXA9_AND_MEIS1_DN</text>
<text x="471.90" y="417.80" font-size="7.9" fill="#0a0a0a" text-anchor="start" font-weight="bold" textLength="29.20" lengthAdjust="spacingAndGlyphs" stroke="#0a0a0a" stroke-width="0.15">NES=2.81</text>
<text x="471.90" y="427.20" font-size="7.9" fill="#0a0a0a" text-anchor="start" font-weight="bold" textLength="21.00" lengthAdjust="spacingAndGlyphs" stroke="#0a0a0a" stroke-width="0.15">q=0.00</text>
<text x="402.00" y="483.30" font-size="6.6" fill="#c82e46" text-anchor="start" font-weight="bold" textLength="13.60" lengthAdjust="spacingAndGlyphs" stroke="#c82e46" stroke-width="0.2">shJ1C</text>
<text x="510.70" y="483.30" font-size="6.6" fill="#2c2c8c" text-anchor="end" font-weight="bold" textLength="12.00" lengthAdjust="spacingAndGlyphs" stroke="#2c2c8c" stroke-width="0.2">shScr</text>
</svg>
</body></html>
